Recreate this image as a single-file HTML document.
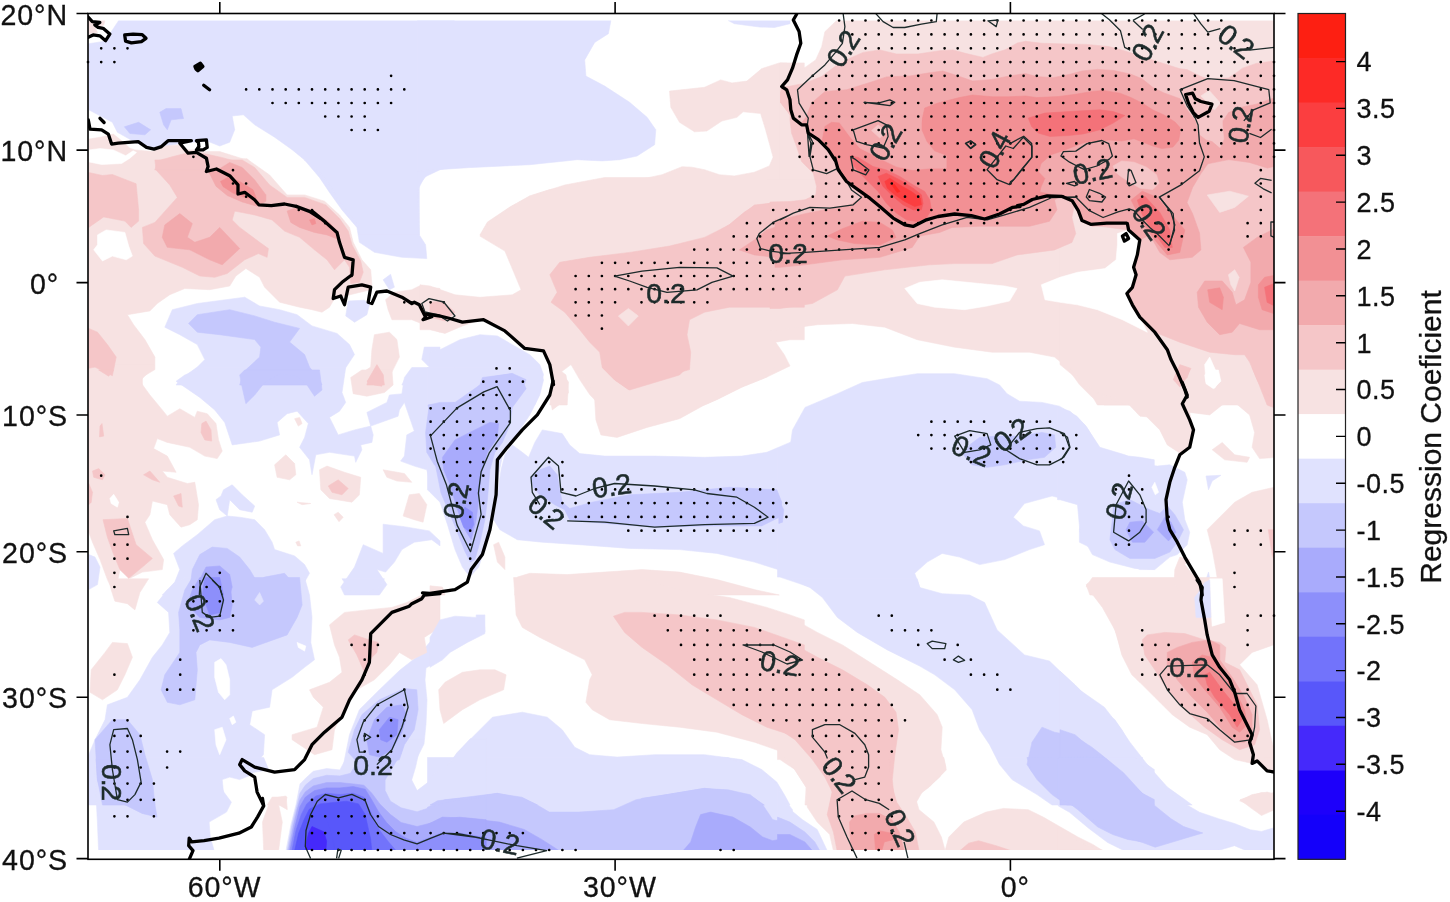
<!DOCTYPE html>
<html><head><meta charset="utf-8"><title>Regression Coeficient map</title>
<style>html,body{margin:0;padding:0;background:#fff}svg{display:block}text{font-family:"Liberation Sans",sans-serif;fill:#111;stroke:#111;stroke-width:0.3px}text.cl{fill:#1d2b2b;stroke:#1d2b2b;stroke-width:0.55px}</style>
</head><body>
<svg width="1450" height="902" viewBox="0 0 1450 902">
<rect width="1450" height="902" fill="#fff"/>
<clipPath id="cp"><rect x="88" y="20.5" width="1186" height="829.5"/></clipPath>
<g clip-path="url(#cp)">
<path d="M88.7 158.8L247.2 158.8L248.4 160.0L269.6 175.0L287.1 194.9L304.6 194.9L324.5 201.2L339.5 214.9L349.5 227.4L353.2 242.3L361.9 259.8L370.7 269.8L371.9 284.8L370.7 289.7L334.5 298.5L329.5 307.2L322.0 312.2L312.0 309.7L299.6 307.2L279.6 302.2L264.6 287.2L259.6 277.3L245.9 268.5L235.9 276.0L229.7 286.0L209.7 289.7L184.8 288.5L169.8 294.7L157.3 303.5L149.9 310.9L127.4 314.7L133.6 324.7L144.9 339.6L154.9 357.1L154.9 369.6L142.4 377.1L142.4 385.0L88.7 385.0Z" fill="#f7e2e2" stroke="#f7e2e2" stroke-width="0.6"/>
<path d="M385.6 299.7L394.4 292.2L411.8 289.7L419.3 286.0L440.0 288.5L440.0 332.2L424.3 324.7L411.8 319.7L391.9 319.7L388.1 309.7Z" fill="#f7e2e2" stroke="#f7e2e2" stroke-width="0.6"/>
<path d="M374.4 334.7L389.4 332.2L396.9 339.6L399.4 357.1L391.9 372.1L389.4 385.0L356.9 385.0L359.4 374.6L370.7 367.1L371.9 349.6Z" fill="#f7e2e2" stroke="#f7e2e2" stroke-width="0.6"/>
<path d="M304.6 160.0L440.0 160.0L440.0 167.5L426.8 175.0L419.3 185.0L419.3 234.9L425.6 244.8L426.8 258.6L401.9 257.3L374.4 252.3L359.4 242.3L356.9 227.4L342.0 209.9L329.5 192.4L319.5 177.5Z" fill="#e0e2fe" stroke="#e0e2fe" stroke-width="0.6"/>
<path d="M383.1 279.8L390.6 274.3L394.4 287.2L389.4 289.7Z" fill="#e0e2fe" stroke="#e0e2fe" stroke-width="0.6"/>
<path d="M348.2 301.0L364.4 300.2L369.4 304.7L366.9 314.7L354.5 322.2L345.7 315.9Z" fill="#e0e2fe" stroke="#e0e2fe" stroke-width="0.6"/>
<path d="M164.8 327.2L172.3 309.7L197.3 303.5L244.7 297.2L259.6 306.0L279.6 309.7L297.1 314.7L312.0 325.9L337.0 333.4L349.5 344.6L354.5 354.6L344.5 369.6L342.0 385.0L176.1 385.0L179.8 379.6L197.3 367.1L204.8 359.6L197.3 344.6L179.8 334.7Z" fill="#e0e2fe" stroke="#e0e2fe" stroke-width="0.6"/>
<path d="M440.0 347.1L424.3 347.1L421.8 359.6L429.3 367.1L421.8 372.1L404.4 379.6L401.9 385.0L440.0 385.0Z" fill="#e0e2fe" stroke="#e0e2fe" stroke-width="0.6"/>
<path d="M118.7 20.5L454.3 20.5L454.3 165.9L440.0 169.7L424.3 177.2L418.1 189.6L419.3 235.0L359.4 235.0L356.9 222.1L339.5 202.1L329.5 184.7L319.5 172.2L292.1 149.7L274.6 137.2L254.7 124.8L243.4 114.8L232.2 116.0L234.7 129.8L229.7 142.2L219.7 146.0L207.2 141.0L192.3 142.2L179.8 143.5L154.9 148.5L137.4 143.5L117.4 132.3L112.4 122.3L88.7 109.8L88.7 43.7L105.0 41.2Z" fill="#e0e2fe" stroke="#e0e2fe" stroke-width="0.6"/>
<path d="M88.7 20.5L105.0 20.5L103.7 25.0L95.0 27.5L97.5 32.5L88.7 33.7Z" fill="#f7e2e2" stroke="#f7e2e2" stroke-width="0.6"/>
<path d="M89.1 139.1L101.6 136.9L113.3 134.1L120.7 139.9L129.9 148.2L134.9 149.9L153.2 151.6L166.5 145.7L179.8 144.9L188.1 149.9L196.4 149.9L206.4 151.6L219.7 151.6L246.3 159.9L252.0 165.7L252.0 169.9L89.1 169.9Z" fill="#f7e2e2" stroke="#f7e2e2" stroke-width="0.6"/>
<path d="M417.5 20.5L610.9 20.5L608.4 33.7L594.7 42.4L584.7 59.9L585.9 76.1L604.7 86.1L629.6 102.3L647.1 117.3L655.8 129.8L654.6 144.7L637.1 156.0L619.6 159.7L602.2 160.9L577.2 159.7L529.8 164.7L467.4 167.7L430.0 170.2L417.5 170.9Z" fill="#e0e2fe" stroke="#e0e2fe" stroke-width="0.6"/>
<path d="M728.2 20.5L790.0 20.5L790.0 23.7L774.3 27.5L759.3 27.0L734.4 23.7Z" fill="#e0e2fe" stroke="#e0e2fe" stroke-width="0.6"/>
<path d="M669.5 91.1L704.5 87.3L720.7 79.9L731.9 82.9L746.9 81.1L761.8 68.6L779.3 62.9L804.3 62.9L804.3 235.0L479.9 235.0L487.4 222.1L509.8 207.1L529.8 195.9L549.8 189.6L579.7 184.7L629.6 181.7L662.0 174.7L682.0 166.7L692.0 167.2L704.5 169.7L719.4 174.7L734.4 175.9L754.4 172.2L769.3 165.9L773.1 157.2L765.6 129.8L760.6 113.5L743.1 111.8L736.9 117.3L721.9 121.0L706.9 131.0L694.5 131.8L679.5 122.3L670.8 107.3Z" fill="#f7e2e2" stroke="#f7e2e2" stroke-width="0.6"/>
<path d="M604.7 177.5L564.7 185.0L529.8 196.2L509.8 207.4L487.4 224.9L479.9 236.1L504.9 251.1L521.1 289.8L512.3 294.8L479.9 297.3L455.0 294.8L430.0 286.0L420.0 284.8L420.0 329.7L430.0 329.7L445.0 333.4L462.4 326.0L483.6 318.5L504.9 329.7L524.8 347.2L543.5 350.9L549.8 364.6L553.5 384.6L549.8 405.0L567.2 405.0L568.5 382.1L561.0 372.1L571.0 364.6L579.7 379.6L589.7 394.6L599.7 405.0L704.5 405.0L716.9 399.6L741.9 387.1L766.8 377.1L790.0 365.9L784.3 354.7L775.6 342.2L790.0 339.7L804.3 339.7L804.3 177.5Z" fill="#f7e2e2" stroke="#f7e2e2" stroke-width="0.6"/>
<path d="M430.0 352.2L440.0 349.7L459.9 339.7L479.9 334.7L497.4 335.9L512.3 344.7L529.8 354.7L539.8 364.6L543.5 374.6L539.8 392.1L534.8 405.0L430.0 405.0Z" fill="#e0e2fe" stroke="#e0e2fe" stroke-width="0.6"/>
<path d="M836.6 20.5L1304.0 20.5L1304.0 235.0L780.0 235.0L780.0 62.9L786.7 63.1L793.2 70.6L805.0 67.4L815.7 59.9L821.7 46.7L824.9 31.7Z" fill="#f7e2e2" stroke="#f7e2e2" stroke-width="0.6"/>
<path d="M767.5 180.0L1154.3 180.0L1154.3 405.0L1104.4 405.0L1091.9 397.1L1079.4 384.6L1066.9 367.1L1054.5 357.1L1029.5 352.2L992.1 352.2L954.7 347.2L917.2 339.7L884.8 327.2L852.4 323.5L817.4 324.7L780.0 329.7L767.5 330.9Z" fill="#f7e2e2" stroke="#f7e2e2" stroke-width="0.6"/>
<path d="M1060.0 180.0L1277.1 180.0L1277.1 405.0L1097.4 405.0L1089.9 392.1L1075.0 377.1L1060.0 364.6Z" fill="#f7e2e2" stroke="#f7e2e2" stroke-width="0.6"/>
<path d="M88.7 365.0L154.9 365.0L139.9 381.2L149.9 395.0L162.3 409.9L167.3 416.2L179.8 408.7L194.8 417.4L197.3 411.2L207.2 413.7L216.0 423.6L218.5 439.9L222.2 451.1L217.2 458.6L204.8 456.1L189.8 447.3L167.3 442.4L157.3 438.6L153.6 448.6L167.3 456.1L176.1 472.3L162.3 471.0L167.3 477.3L187.3 483.5L194.8 482.3L198.5 504.7L197.3 519.7L189.8 524.7L181.0 527.2L169.8 514.7L167.3 504.7L152.4 501.0L149.9 514.7L144.9 522.2L152.4 539.7L163.6 559.6L162.3 569.6L142.4 572.1L129.9 578.3L119.9 569.6L114.9 595.0L107.4 579.6L100.0 559.6L92.5 542.2L88.7 532.2Z" fill="#f7e2e2" stroke="#f7e2e2" stroke-width="0.6"/>
<path d="M176.1 381.2L184.8 375.0L204.8 367.5L345.7 367.5L342.0 392.5L345.7 402.4L339.5 411.2L329.5 417.4L338.2 434.9L354.5 429.9L370.7 426.1L373.2 434.9L371.9 442.4L360.7 444.9L361.9 449.8L355.7 462.3L354.5 456.1L329.5 452.3L315.8 454.8L312.0 474.8L309.5 459.8L299.6 447.3L304.6 437.4L308.3 423.6L297.1 411.2L287.1 413.7L277.1 422.4L279.6 434.9L259.6 441.1L232.2 444.9L224.7 422.4L214.7 409.9L199.8 397.4Z" fill="#e0e2fe" stroke="#e0e2fe" stroke-width="0.6"/>
<path d="M411.8 367.5L454.3 367.5L454.3 509.7L440.0 499.7L431.8 489.8L426.8 469.8L414.3 466.1L400.6 461.1L404.4 456.1L406.8 434.9L414.3 431.1L404.4 402.4L401.9 393.7L404.4 377.5Z" fill="#e0e2fe" stroke="#e0e2fe" stroke-width="0.6"/>
<path d="M366.9 412.4L386.9 402.4L389.4 395.0L403.1 393.7L404.4 402.4L399.4 409.9L398.1 416.2L370.7 426.1Z" fill="#e0e2fe" stroke="#e0e2fe" stroke-width="0.6"/>
<path d="M223.5 489.8L232.2 484.8L242.2 494.8L254.7 506.0L252.2 512.2L239.7 509.7L229.7 499.7L227.2 516.0L219.7 509.7L216.0 499.7L221.0 496.0Z" fill="#e0e2fe" stroke="#e0e2fe" stroke-width="0.6"/>
<path d="M162.3 595.0L174.8 582.1L179.8 569.6L173.6 553.4L182.3 545.9L197.3 534.7L214.7 519.7L227.2 516.0L239.7 517.2L254.7 519.7L264.6 529.7L272.1 542.2L274.6 549.6L294.6 555.9L304.6 564.6L309.5 573.3L304.6 582.1L299.6 595.0Z" fill="#e0e2fe" stroke="#e0e2fe" stroke-width="0.6"/>
<path d="M340.7 587.1L354.5 567.1L363.2 544.7L383.1 553.4L383.1 524.2L404.4 526.7L429.3 530.9L440.0 540.9L440.0 545.9L431.8 539.7L414.3 542.2L401.9 549.6L394.4 562.1L385.6 572.1L376.9 569.6L386.9 584.6L379.4 595.0L344.5 595.0Z" fill="#e0e2fe" stroke="#e0e2fe" stroke-width="0.6"/>
<path d="M88.7 554.6L95.0 557.1L100.0 567.1L97.5 584.6L88.7 589.6Z" fill="#e0e2fe" stroke="#e0e2fe" stroke-width="0.6"/>
<path d="M427.5 367.5L539.8 367.5L543.5 380.0L539.8 395.0L529.8 414.9L519.8 429.9L512.3 442.4L502.4 456.1L498.6 474.8L496.1 499.7L489.9 529.7L483.6 552.1L478.7 567.1L469.9 577.1L462.4 567.1L455.0 549.6L447.5 524.7L440.0 502.2L430.0 492.3L427.5 489.8Z" fill="#e0e2fe" stroke="#e0e2fe" stroke-width="0.6"/>
<path d="M528.6 457.3L534.8 442.4L542.3 429.9L562.2 433.6L569.7 444.9L579.7 453.6L604.7 456.1L654.6 456.1L704.5 457.3L741.9 456.1L766.8 452.3L790.0 442.4L804.3 437.4L804.3 579.6L790.0 573.3L754.4 562.1L716.9 553.4L679.5 549.6L629.6 548.4L579.7 544.7L542.3 542.2L517.3 539.7L499.9 529.7L493.6 519.7L497.4 494.8L501.1 469.8L504.9 454.8L512.3 444.9L522.3 452.3Z" fill="#e0e2fe" stroke="#e0e2fe" stroke-width="0.6"/>
<path d="M559.7 370.0L566.0 375.0L568.5 392.5L562.2 402.4L552.3 409.9L549.8 397.4L553.5 380.0Z" fill="#f7e2e2" stroke="#f7e2e2" stroke-width="0.6"/>
<path d="M577.2 367.5L774.3 367.5L766.8 377.0L741.9 387.0L716.9 399.4L704.5 404.9L679.5 418.7L647.1 427.4L617.1 437.4L600.9 434.9L595.9 419.9L594.7 399.9L589.7 385.0Z" fill="#f7e2e2" stroke="#f7e2e2" stroke-width="0.6"/>
<path d="M493.6 544.7L498.6 542.2L504.9 557.1L504.9 569.6L497.4 562.1Z" fill="#f7e2e2" stroke="#f7e2e2" stroke-width="0.6"/>
<path d="M514.8 595.0L517.3 577.1L529.8 573.3L567.2 574.6L604.7 572.1L642.1 569.6L679.5 572.1L716.9 579.6L754.4 589.6L779.3 595.0Z" fill="#f7e2e2" stroke="#f7e2e2" stroke-width="0.6"/>
<path d="M430.0 585.8L442.5 587.1L445.0 595.0L430.0 595.0Z" fill="#f7e2e2" stroke="#f7e2e2" stroke-width="0.6"/>
<path d="M777.5 449.8L790.0 447.3L792.5 429.9L805.0 407.4L837.4 393.7L862.3 382.5L892.3 377.5L917.2 373.7L954.7 373.7L987.1 378.7L999.6 385.0L1007.0 393.7L1019.5 401.2L1042.0 402.4L1059.4 406.2L1076.9 416.2L1086.9 427.4L1101.9 452.3L1116.8 454.8L1140.0 457.3L1154.3 459.8L1154.3 569.6L1140.0 569.6L1116.8 559.6L1094.4 549.6L1079.4 542.2L1079.4 529.7L1081.9 517.2L1078.2 502.2L1052.0 496.0L1024.5 503.5L1013.3 517.2L1023.3 525.9L1039.5 530.9L1044.5 544.7L1029.5 549.6L1004.6 559.6L979.6 564.6L959.6 557.1L942.2 553.4L927.2 562.1L914.7 573.3L919.7 587.1L924.7 595.0L822.4 595.0L809.9 587.1L780.0 577.1L777.5 577.1Z" fill="#e0e2fe" stroke="#e0e2fe" stroke-width="0.6"/>
<path d="M1070.7 368.8L1079.4 380.0L1094.4 392.5L1111.8 399.9L1129.3 404.9L1140.0 416.2L1154.3 417.4L1154.3 368.8Z" fill="#f7e2e2" stroke="#f7e2e2" stroke-width="0.6"/>
<path d="M1086.9 584.6L1094.4 578.3L1111.8 579.6L1129.3 584.6L1140.0 587.1L1140.0 595.0L1091.9 595.0Z" fill="#f7e2e2" stroke="#f7e2e2" stroke-width="0.6"/>
<path d="M1071.2 367.5L1082.5 382.5L1097.4 392.5L1122.4 399.9L1142.3 412.4L1159.8 429.9L1167.3 444.9L1182.3 454.8L1189.7 447.3L1193.5 429.9L1189.7 412.4L1209.7 414.9L1222.2 404.9L1234.7 402.4L1249.6 414.9L1254.6 432.4L1252.1 447.3L1259.6 458.6L1277.1 457.3L1277.1 367.5Z" fill="#f7e2e2" stroke="#f7e2e2" stroke-width="0.6"/>
<path d="M1212.2 449.8L1222.2 442.4L1234.7 454.8L1249.6 457.3L1247.1 462.3L1224.7 459.8Z" fill="#f7e2e2" stroke="#f7e2e2" stroke-width="0.6"/>
<path d="M1057.5 407.4L1070.0 411.2L1085.0 424.9L1099.9 447.3L1124.9 454.8L1147.3 464.8L1157.3 466.1L1169.8 464.8L1184.8 472.3L1187.2 479.8L1182.3 502.2L1184.8 519.7L1189.7 532.2L1187.2 544.7L1177.3 554.6L1169.8 557.1L1154.8 569.6L1134.9 568.4L1109.9 562.1L1092.4 554.6L1080.0 532.2L1077.5 504.7L1060.0 499.7L1057.5 499.7Z" fill="#e0e2fe" stroke="#e0e2fe" stroke-width="0.6"/>
<path d="M1206.0 476.0L1220.9 475.3L1212.2 481.0L1208.5 489.8Z" fill="#e0e2fe" stroke="#e0e2fe" stroke-width="0.6"/>
<path d="M1203.5 595.0L1206.0 579.6L1208.5 572.1L1210.9 584.6L1210.9 595.0Z" fill="#e0e2fe" stroke="#e0e2fe" stroke-width="0.6"/>
<path d="M1207.2 529.7L1219.7 517.2L1234.7 502.2L1252.1 492.3L1274.1 487.3L1277.1 487.3L1277.1 595.0L1219.7 595.0L1215.9 569.6L1212.2 549.6Z" fill="#f7e2e2" stroke="#f7e2e2" stroke-width="0.6"/>
<path d="M1086.2 584.6L1097.4 578.3L1122.4 579.6L1139.8 587.1L1147.3 595.0L1089.9 595.0Z" fill="#f7e2e2" stroke="#f7e2e2" stroke-width="0.6"/>
<path d="M1173.5 595.0L1174.8 569.6L1179.8 557.1L1189.7 559.6L1184.8 564.6L1194.7 577.1L1199.7 587.1L1199.7 595.0Z" fill="#f7e2e2" stroke="#f7e2e2" stroke-width="0.6"/>
<path d="M167.3 590.0L184.8 577.5L304.6 577.5L309.5 595.0L312.0 617.4L310.8 642.4L314.5 659.8L304.6 667.3L292.1 677.3L272.1 689.8L269.6 707.2L252.2 711.0L249.7 724.7L264.6 734.7L263.4 754.7L254.7 764.6L252.2 774.6L239.7 779.6L229.7 777.1L222.2 779.6L224.7 805.0L88.7 805.0L88.7 754.7L95.0 739.7L105.0 719.7L107.4 704.8L127.4 697.3L139.9 679.8L152.4 657.3L162.3 644.9L169.8 632.4L168.6 612.4L157.3 602.5Z" fill="#e0e2fe" stroke="#e0e2fe" stroke-width="0.6"/>
<path d="M344.5 759.6L349.5 734.7L359.4 709.7L379.4 689.8L400.0 670.0L418.0 656.0L430.0 642.0L440.0 626.0L446.0 620.0L484.0 620.0L485.0 632.0L466.0 642.0L448.0 652.0L440.0 660.0L426.0 668.0L425.0 680.0L427.0 700.0L426.0 724.0L424.0 744.0L416.0 760.0L410.0 784.0L416.8 792.0L440.0 797.0L440.0 805.0L404.3 805.0L396.9 797.0L379.4 777.0L354.5 774.6L342.0 772.0Z" fill="#e0e2fe" stroke="#e0e2fe" stroke-width="0.6"/>
<path d="M342.0 578.8L384.4 578.8L379.4 587.5L361.9 593.7L349.5 590.0Z" fill="#e0e2fe" stroke="#e0e2fe" stroke-width="0.6"/>
<path d="M108.7 578.8L148.6 578.8L139.9 592.5L134.9 609.9L127.4 603.7L114.9 601.2L111.2 590.0Z" fill="#f7e2e2" stroke="#f7e2e2" stroke-width="0.6"/>
<path d="M91.2 669.8L105.0 652.4L112.4 642.4L127.4 643.6L132.4 657.3L124.9 674.8L117.4 689.8L102.5 699.8L90.0 692.3Z" fill="#f7e2e2" stroke="#f7e2e2" stroke-width="0.6"/>
<path d="M329.5 624.9L344.5 612.4L366.9 609.9L391.9 607.4L406.8 602.5L421.8 595.0L440.0 595.0L440.0 627.4L424.3 637.4L426.8 652.4L411.8 659.8L399.4 652.4L389.4 664.8L374.4 679.8L356.9 689.8L344.5 707.2L334.5 729.7L332.0 749.7L314.5 754.7L292.1 739.7L292.1 734.7L317.0 727.2L323.3 707.2L313.3 697.3L309.5 689.8L329.5 682.3L342.0 672.3L339.5 657.3L334.5 644.9Z" fill="#f7e2e2" stroke="#f7e2e2" stroke-width="0.6"/>
<path d="M267.1 805.0L272.1 797.1L287.1 797.1L284.6 805.0Z" fill="#f7e2e2" stroke="#f7e2e2" stroke-width="0.6"/>
<path d="M513.6 577.5L639.6 577.5L679.5 590.0L729.4 597.5L766.8 607.4L790.0 614.9L804.3 619.9L804.3 762.1L790.0 754.7L754.4 742.2L716.9 732.2L679.5 727.2L642.1 723.5L609.6 719.7L592.2 709.7L585.9 702.3L589.7 679.8L592.2 674.8L584.7 659.8L559.7 647.4L539.8 637.4L522.3 627.4L516.1 614.9L514.8 595.0Z" fill="#f7e2e2" stroke="#f7e2e2" stroke-width="0.6"/>
<path d="M438.7 689.8L445.0 682.3L462.4 672.3L479.9 669.8L494.9 669.8L506.1 674.8L503.6 689.8L479.9 699.8L462.4 709.7L443.7 723.5L440.0 709.7Z" fill="#f7e2e2" stroke="#f7e2e2" stroke-width="0.6"/>
<path d="M430.0 637.4L440.0 619.9L455.0 616.2L476.2 617.4L476.2 614.9L484.9 614.9L484.9 633.6L467.4 642.4L450.0 652.4L442.5 659.8L430.0 667.3Z" fill="#e0e2fe" stroke="#e0e2fe" stroke-width="0.6"/>
<path d="M430.0 772.1L445.0 769.6L457.4 752.2L474.9 734.7L492.4 717.2L522.3 712.2L547.3 717.2L562.2 729.7L574.7 747.2L589.7 754.7L617.1 757.1L654.6 754.7L704.5 754.7L741.9 759.6L761.8 769.6L776.8 782.1L784.3 794.6L790.0 805.0L430.0 805.0Z" fill="#e0e2fe" stroke="#e0e2fe" stroke-width="0.6"/>
<path d="M790.0 578.8L917.2 578.8L919.7 587.5L942.2 593.7L969.6 595.0L984.6 602.5L997.1 629.9L1024.5 654.9L1049.5 661.1L1079.4 689.8L1104.4 707.2L1121.8 729.7L1134.3 752.2L1140.0 759.6L1154.3 769.6L1154.3 805.0L1052.0 805.0L1037.0 794.6L1012.0 779.6L999.6 764.6L989.6 744.7L979.6 729.7L972.1 709.7L954.7 689.8L934.7 674.8L919.7 666.1L887.3 649.9L857.3 632.4L837.4 617.4L822.4 597.5L809.9 587.5Z" fill="#e0e2fe" stroke="#e0e2fe" stroke-width="0.6"/>
<path d="M777.5 612.4L795.0 619.9L817.4 632.4L842.4 644.9L869.8 662.3L897.3 679.8L919.7 694.8L937.2 714.7L942.2 727.2L940.9 749.7L945.9 767.1L939.7 777.1L922.2 792.1L914.7 805.0L805.0 805.0L806.2 787.1L795.0 769.6L780.0 759.6L777.5 759.6Z" fill="#f7e2e2" stroke="#f7e2e2" stroke-width="0.6"/>
<path d="M1086.9 585.0L1096.9 578.8L1140.0 578.8L1140.0 682.3L1131.8 674.8L1121.8 654.9L1116.8 634.9L1109.3 614.9L1094.4 595.0Z" fill="#f7e2e2" stroke="#f7e2e2" stroke-width="0.6"/>
<path d="M1086.2 586.2L1092.4 577.5L1277.1 577.5L1277.1 643.6L1252.1 652.4L1239.6 664.8L1257.1 684.8L1267.1 719.7L1272.1 742.2L1277.1 759.6L1277.1 772.1L1267.1 770.9L1257.1 760.9L1252.1 763.4L1234.7 759.6L1219.7 749.7L1207.2 734.7L1189.7 727.2L1172.3 714.7L1154.8 697.3L1137.3 679.8L1122.4 654.9L1114.9 629.9L1102.4 607.4Z" fill="#f7e2e2" stroke="#f7e2e2" stroke-width="0.6"/>
<path d="M1060.0 671.1L1075.0 684.8L1092.4 702.3L1114.9 719.7L1129.9 742.2L1147.3 764.6L1167.3 787.1L1184.8 799.6L1192.2 805.0L1060.0 805.0Z" fill="#e0e2fe" stroke="#e0e2fe" stroke-width="0.6"/>
<path d="M1239.6 800.8L1252.1 794.6L1267.1 792.1L1277.1 794.6L1277.1 805.0L1249.6 805.0Z" fill="#f7e2e2" stroke="#f7e2e2" stroke-width="0.6"/>
<path d="M1173.5 582.5L1177.3 577.5L1194.7 577.5L1189.7 587.5L1182.3 596.2Z" fill="#f7e2e2" stroke="#f7e2e2" stroke-width="0.6"/>
<path d="M94.9 757.5L238.9 757.5L238.9 767.4L226.5 774.9L219.0 782.3L224.0 792.3L231.4 802.2L226.5 812.1L209.1 822.1L210.3 837.0L214.1 850.6L98.6 850.6L97.4 822.1L96.1 797.2Z" fill="#e0e2fe" stroke="#e0e2fe" stroke-width="0.6"/>
<path d="M238.9 757.5L263.7 757.5L268.7 769.9L253.8 772.4L243.9 767.4Z" fill="#e0e2fe" stroke="#e0e2fe" stroke-width="0.6"/>
<path d="M263.7 850.6L262.5 822.1L268.7 804.7L278.6 797.2L286.1 796.0L287.3 809.7L278.6 804.7L282.3 822.1L278.6 850.6Z" fill="#f7e2e2" stroke="#f7e2e2" stroke-width="0.6"/>
<path d="M427.5 757.5L727.9 757.5L757.7 769.9L775.1 782.3L785.0 799.7L792.5 809.7L792.5 850.6L427.5 850.6Z" fill="#e0e2fe" stroke="#e0e2fe" stroke-width="0.6"/>
<path d="M777.5 787.3L787.4 807.2L802.3 819.6L817.2 829.5L827.2 850.6L777.5 850.6Z" fill="#e0e2fe" stroke="#e0e2fe" stroke-width="0.6"/>
<path d="M785.0 757.5L943.9 757.5L946.3 769.9L929.0 787.3L915.3 797.2L919.0 809.7L933.9 822.1L941.4 837.0L945.1 850.6L833.4 850.6L829.7 834.5L817.2 822.1L807.3 807.2L806.1 787.3L794.9 769.9Z" fill="#f7e2e2" stroke="#f7e2e2" stroke-width="0.6"/>
<path d="M945.1 850.6L948.8 837.0L963.7 822.1L986.1 812.1L1003.4 808.4L1028.3 809.7L1043.2 817.1L1060.5 827.0L1077.9 837.0L1092.8 844.4L1102.7 850.6Z" fill="#f7e2e2" stroke="#f7e2e2" stroke-width="0.6"/>
<path d="M998.5 757.5L1142.5 757.5L1142.5 850.6L1127.6 850.6L1107.7 839.4L1085.4 822.1L1065.5 807.2L1040.7 794.8L1020.8 782.3L1005.9 769.9Z" fill="#e0e2fe" stroke="#e0e2fe" stroke-width="0.6"/>
<path d="M1058.4 758.4L1136.1 758.4L1148.8 772.7L1161.5 787.0L1180.6 801.2L1199.6 812.3L1218.6 818.7L1234.5 823.5L1250.4 829.8L1261.5 831.4L1272.6 828.2L1275.7 828.2L1275.7 850.4L1245.6 850.4L1234.5 845.7L1218.6 850.4L1123.5 850.4L1107.6 842.5L1088.6 828.2L1069.5 812.3L1058.4 806.0Z" fill="#e0e2fe" stroke="#e0e2fe" stroke-width="0.6"/>
<path d="M1058.4 828.2L1069.5 836.1L1083.8 844.1L1102.8 850.4L1058.4 850.4Z" fill="#f7e2e2" stroke="#f7e2e2" stroke-width="0.6"/>
<path d="M1240.0 799.7L1247.2 797.3L1261.5 792.5L1269.4 794.1L1275.7 791.7L1275.7 809.2L1261.5 815.5L1250.4 807.6Z" fill="#f7e2e2" stroke="#f7e2e2" stroke-width="0.6"/>
<path d="M1264.6 758.4L1275.7 758.4L1275.7 767.9L1269.4 766.3Z" fill="#f7e2e2" stroke="#f7e2e2" stroke-width="0.6"/>
<path d="M286.0 850.4L291.0 824.5L296.0 804.7L300.0 783.9L306.7 777.2L313.3 771.3L326.6 768.6L339.9 769.9L345.2 760.0L350.6 746.7L353.2 738.7L423.7 738.7L419.7 748.0L415.7 766.6L411.7 779.9L417.1 790.6L427.7 782.6L433.0 774.6L446.3 766.6L459.6 750.6L470.3 738.7L486.2 738.7L486.2 850.4Z" fill="#e0e2fe" stroke="#e0e2fe" stroke-width="0.6"/>
<path d="M97.5 234.9L106.2 229.9L124.9 232.4L128.7 246.1L132.4 256.1L126.2 259.8L112.4 256.1L102.5 261.0L93.7 249.8L97.5 244.8Z" fill="#ffffff" stroke="#ffffff" stroke-width="0.6"/>
<path d="M89.1 149.9L100.0 148.6L113.3 149.9L125.7 155.7L133.2 150.7L136.5 152.4L129.9 158.2L121.6 163.5L101.6 164.5L89.1 161.9Z" fill="#ffffff" stroke="#ffffff" stroke-width="0.6"/>
<path d="M904.8 288.5L919.7 282.3L942.2 279.8L979.6 283.5L1004.6 286.0L1017.0 288.5L1009.5 301.0L987.1 306.0L964.6 309.7L934.7 307.2L917.2 303.5Z" fill="#ffffff" stroke="#ffffff" stroke-width="0.6"/>
<path d="M1117.4 233.6L1128.6 229.9L1139.8 239.9L1137.3 254.9L1133.6 267.3L1136.1 274.8L1132.4 287.3L1126.9 293.5L1132.4 304.8L1139.8 317.2L1147.3 332.2L1142.3 329.7L1122.4 319.7L1097.4 309.7L1077.5 304.8L1060.0 302.3L1045.0 299.8L1041.3 284.8L1060.0 277.3L1077.5 272.3L1104.9 268.6L1116.1 259.8L1117.4 244.9Z" fill="#ffffff" stroke="#ffffff" stroke-width="0.6"/>
<path d="M1204.7 364.6L1209.7 357.1L1219.7 379.6L1214.7 388.3L1206.0 382.1Z" fill="#ffffff" stroke="#ffffff" stroke-width="0.6"/>
<path d="M109.9 498.5L113.7 494.3L118.7 502.2L117.4 507.2L111.2 503.5Z" fill="#ffffff" stroke="#ffffff" stroke-width="0.6"/>
<path d="M1204.7 375.0L1209.7 370.0L1218.4 370.0L1220.9 381.2L1213.4 388.7L1206.0 383.7Z" fill="#ffffff" stroke="#ffffff" stroke-width="0.6"/>
<path d="M1151.8 487.3L1154.8 482.3L1158.6 492.3L1155.3 494.8Z" fill="#ffffff" stroke="#ffffff" stroke-width="0.6"/>
<path d="M214.7 662.3L221.0 658.6L226.0 664.8L229.7 679.8L229.7 694.8L224.7 699.8L218.5 692.3L214.7 677.3Z" fill="#ffffff" stroke="#ffffff" stroke-width="0.6"/>
<path d="M297.1 642.4L305.8 646.1L304.6 651.1L298.3 647.4Z" fill="#ffffff" stroke="#ffffff" stroke-width="0.6"/>
<path d="M214.7 729.7L222.2 727.2L226.0 739.7L219.7 754.7L216.0 744.7Z" fill="#ffffff" stroke="#ffffff" stroke-width="0.6"/>
<path d="M229.7 718.5L233.4 716.0L235.9 722.2L232.2 724.7Z" fill="#ffffff" stroke="#ffffff" stroke-width="0.6"/>
<path d="M1209.7 578.8L1222.2 578.8L1224.7 622.4L1212.2 626.2L1210.9 605.0Z" fill="#ffffff" stroke="#ffffff" stroke-width="0.6"/>
<path d="M350.7 377.5L361.9 370.0L391.9 370.0L393.1 385.0L384.4 392.5L366.9 396.2L353.2 393.7Z" fill="#f7e2e2" stroke="#f7e2e2" stroke-width="0.6"/>
<path d="M274.6 464.8L285.8 454.8L294.6 463.6L295.8 474.8L289.6 479.8L277.1 477.3Z" fill="#f7e2e2" stroke="#f7e2e2" stroke-width="0.6"/>
<path d="M319.5 469.8L327.0 466.1L344.5 472.3L360.7 477.3L359.4 494.8L352.0 502.2L329.5 498.5L320.8 489.8Z" fill="#f7e2e2" stroke="#f7e2e2" stroke-width="0.6"/>
<path d="M383.1 469.8L404.4 473.5L411.8 482.3L396.9 481.0L386.9 477.3Z" fill="#f7e2e2" stroke="#f7e2e2" stroke-width="0.6"/>
<path d="M409.3 494.8L419.3 493.5L426.8 504.7L423.1 522.2L414.3 519.7L403.1 516.0Z" fill="#f7e2e2" stroke="#f7e2e2" stroke-width="0.6"/>
<path d="M334.0 514.7L338.2 512.2L343.2 517.2L339.0 521.7Z" fill="#f7e2e2" stroke="#f7e2e2" stroke-width="0.6"/>
<path d="M294.6 418.7L299.6 417.4L302.1 423.6L298.3 426.1Z" fill="#f7e2e2" stroke="#f7e2e2" stroke-width="0.6"/>
<path d="M297.1 502.2L310.8 503.5L302.1 504.7Z" fill="#f7e2e2" stroke="#f7e2e2" stroke-width="0.6"/>
<path d="M295.8 542.2L299.1 540.9L300.8 545.9L297.6 545.9Z" fill="#f7e2e2" stroke="#f7e2e2" stroke-width="0.6"/>
<path d="M1194.7 597.5L1198.5 592.5L1204.7 582.5L1209.7 580.0L1210.9 617.4L1196.0 617.4Z" fill="#e0e2fe" stroke="#e0e2fe" stroke-width="0.6"/>
<path d="M88.7 172.5L102.5 175.5L112.4 174.5L136.1 183.7L138.6 209.9L138.6 221.1L131.1 227.4L124.9 221.1L103.7 216.9L88.7 227.4Z" fill="#f5c6c8" stroke="#f5c6c8" stroke-width="0.6"/>
<path d="M242.2 160.0L254.7 167.5L269.6 185.0L287.1 197.4L304.6 197.4L325.8 204.9L339.5 218.6L348.2 231.1L352.0 244.8L360.7 261.0L363.2 272.3L359.4 282.3L350.7 283.5L349.5 267.3L344.5 259.8L334.5 269.8L327.0 259.8L314.5 249.8L299.6 237.3L284.6 231.1L272.1 219.9L254.7 214.9L234.7 211.1L232.2 219.9L239.7 227.4L259.6 242.3L268.4 248.6L267.1 257.3L258.4 253.6L244.7 259.8L227.2 273.5L214.7 277.3L199.8 276.0L182.3 267.3L154.9 256.1L143.6 243.6L142.4 227.4L154.9 222.4L177.3 197.4L169.8 185.0L156.1 170.0L154.9 160.0Z" fill="#f5c6c8" stroke="#f5c6c8" stroke-width="0.6"/>
<path d="M188.5 323.4L197.3 314.7L229.7 309.7L254.7 315.9L274.6 322.2L299.6 328.4L289.6 342.1L304.6 354.6L309.5 367.1L319.5 379.6L322.0 385.0L239.7 385.0L243.4 372.1L259.6 357.1L260.9 347.1L254.7 339.6L219.7 334.7L197.3 332.2Z" fill="#c5c8fd" stroke="#c5c8fd" stroke-width="0.6"/>
<path d="M88.7 328.4L97.5 332.2L107.4 344.6L116.2 357.1L112.4 375.8L95.0 367.1L88.7 368.3Z" fill="#f5c6c8" stroke="#f5c6c8" stroke-width="0.6"/>
<path d="M368.2 379.6L376.9 364.6L383.1 374.6L384.4 385.0L366.9 385.0Z" fill="#f5c6c8" stroke="#f5c6c8" stroke-width="0.6"/>
<path d="M159.8 112.3L166.1 108.6L181.0 108.6L183.5 118.5L171.1 119.8L167.3 129.8L163.6 124.8Z" fill="#c5c8fd" stroke="#c5c8fd" stroke-width="0.6"/>
<path d="M124.4 126.8L138.6 122.3L150.6 129.8L144.9 134.8L129.9 133.5Z" fill="#c5c8fd" stroke="#c5c8fd" stroke-width="0.6"/>
<path d="M154.8 169.9L158.2 160.7L173.1 156.5L186.4 153.2L194.8 152.9L206.4 154.1L221.4 157.4L238.0 161.9L244.7 169.9Z" fill="#f5c6c8" stroke="#f5c6c8" stroke-width="0.6"/>
<path d="M711.9 235.0L729.4 224.6L744.4 212.1L754.4 205.9L774.3 202.6L790.0 202.6L790.0 235.0Z" fill="#f5c6c8" stroke="#f5c6c8" stroke-width="0.6"/>
<path d="M780.5 92.3L790.0 92.3L790.0 114.8L780.5 102.3Z" fill="#f5c6c8" stroke="#f5c6c8" stroke-width="0.6"/>
<path d="M549.8 274.8L559.7 262.3L589.7 257.3L629.6 252.4L669.5 246.1L704.5 237.4L729.4 224.9L754.4 205.0L779.3 202.5L804.3 202.5L804.3 307.2L729.4 307.2L704.5 312.2L689.5 319.7L687.0 334.7L690.7 352.2L689.5 369.6L654.6 379.6L628.4 389.6L614.6 379.6L602.2 367.1L599.7 352.2L589.7 342.2L579.7 329.7L564.7 312.2L551.0 302.3L557.2 292.3Z" fill="#f5c6c8" stroke="#f5c6c8" stroke-width="0.6"/>
<path d="M430.0 302.3L442.5 301.0L455.0 312.2L445.0 321.0L430.0 317.2Z" fill="#f5c6c8" stroke="#f5c6c8" stroke-width="0.6"/>
<path d="M477.4 387.1L489.9 377.1L512.3 373.4L526.1 379.6L522.3 389.6L514.8 397.1L504.9 405.0L467.4 405.0Z" fill="#c5c8fd" stroke="#c5c8fd" stroke-width="0.6"/>
<path d="M781.7 86.5L788.3 86.5L805.0 83.2L821.6 76.5L834.9 66.6L849.9 58.2L863.2 52.4L879.8 49.9L896.4 54.0L918.0 54.0L939.7 50.7L953.0 49.9L966.3 53.6L982.9 57.4L992.5 53.7L1005.7 49.6L1017.3 43.0L1025.6 41.3L1042.0 43.3L1064.0 43.9L1086.5 44.4L1108.7 46.6L1125.0 51.0L1142.0 56.6L1158.6 62.0L1169.7 65.5L1180.0 68.8L1187.0 69.6L1200.9 76.5L1209.2 79.3L1228.6 77.9L1236.9 72.4L1242.5 68.2L1256.3 63.4L1271.6 61.3L1280.0 61.0L1280.0 342.0L1280.0 410.0L1267.1 405.0L1257.1 379.6L1249.6 362.1L1244.6 354.7L1234.7 354.7L1209.7 352.2L1179.8 342.2L1154.8 332.2L1139.8 317.2L1132.4 304.8L1126.9 293.5L1132.4 287.3L1136.1 274.8L1133.6 267.3L1137.3 254.9L1139.8 239.9L1128.6 229.9L1099.4 226.2L1086.9 223.7L1079.4 214.9L1074.4 205.0L1071.9 217.4L1075.7 233.6L1071.9 242.4L1054.5 249.9L1017.0 254.9L992.1 263.6L954.7 263.6L929.7 264.8L884.8 269.8L844.9 276.1L837.4 289.8L812.4 303.5L780.0 308.5L770.0 308.5L770.0 202.0L780.0 201.8L790.0 201.5L805.0 199.8L815.8 194.8L816.6 186.5L813.3 173.2L801.6 161.6L796.6 146.6L791.6 133.3L790.0 120.0L790.0 114.8L780.5 102.3L780.5 92.3Z" fill="#f5c6c8" stroke="#f5c6c8" stroke-width="0.6"/>
<path d="M1173.5 379.6L1179.8 364.6L1191.0 368.4L1184.8 379.6L1179.8 387.1Z" fill="#f5c6c8" stroke="#f5c6c8" stroke-width="0.6"/>
<path d="M98.7 370.0L113.7 370.0L108.7 376.2Z" fill="#f5c6c8" stroke="#f5c6c8" stroke-width="0.6"/>
<path d="M100.0 426.1L102.0 423.6L103.7 436.1L99.5 436.9Z" fill="#f5c6c8" stroke="#f5c6c8" stroke-width="0.6"/>
<path d="M201.8 423.6L206.0 421.1L211.0 429.9L211.7 441.1L204.8 439.9L201.0 432.4Z" fill="#f5c6c8" stroke="#f5c6c8" stroke-width="0.6"/>
<path d="M92.5 471.0L98.7 468.6L105.0 474.8L102.5 479.8L93.7 477.3Z" fill="#f5c6c8" stroke="#f5c6c8" stroke-width="0.6"/>
<path d="M143.6 474.8L149.9 471.0L159.8 482.3L152.4 479.8Z" fill="#f5c6c8" stroke="#f5c6c8" stroke-width="0.6"/>
<path d="M173.6 496.0L181.0 493.5L182.3 507.2L178.6 506.0Z" fill="#f5c6c8" stroke="#f5c6c8" stroke-width="0.6"/>
<path d="M103.0 519.7L127.4 518.5L131.1 529.7L136.1 544.7L152.4 558.4L142.4 567.1L128.7 578.3L119.9 569.6L113.7 554.6L107.4 537.2Z" fill="#f5c6c8" stroke="#f5c6c8" stroke-width="0.6"/>
<path d="M88.7 483.5L92.5 492.3L91.2 502.2L88.7 504.7Z" fill="#f5c6c8" stroke="#f5c6c8" stroke-width="0.6"/>
<path d="M429.3 404.9L440.0 402.4L454.3 402.4L454.3 469.8L440.0 469.8L434.3 464.8L426.8 452.3L425.6 432.4Z" fill="#c5c8fd" stroke="#c5c8fd" stroke-width="0.6"/>
<path d="M239.7 375.0L244.7 370.0L319.5 370.0L322.0 390.0L314.5 396.2L307.0 385.0L297.1 376.2L279.6 373.7L264.6 382.5L254.7 395.0L245.9 403.7L242.2 387.5Z" fill="#c5c8fd" stroke="#c5c8fd" stroke-width="0.6"/>
<path d="M189.8 589.6L192.3 569.6L199.8 554.6L212.2 547.1L227.2 548.4L239.7 557.1L249.7 569.6L257.1 582.1L264.6 577.1L284.6 573.3L292.1 582.1L299.6 595.0L187.3 595.0Z" fill="#c5c8fd" stroke="#c5c8fd" stroke-width="0.6"/>
<path d="M366.9 381.2L376.9 372.5L383.1 375.0L381.9 386.2L374.4 385.0Z" fill="#f5c6c8" stroke="#f5c6c8" stroke-width="0.6"/>
<path d="M328.3 486.0L338.2 479.8L348.2 488.5L342.0 494.8L332.0 492.3Z" fill="#f5c6c8" stroke="#f5c6c8" stroke-width="0.6"/>
<path d="M531.0 477.3L539.8 469.8L549.8 466.1L557.2 474.8L559.7 489.8L562.2 502.2L569.7 508.5L592.2 502.2L629.6 494.8L679.5 492.3L729.4 487.3L776.8 489.8L781.8 502.2L779.3 517.2L761.8 525.9L704.5 525.9L654.6 527.2L604.7 523.4L569.7 519.7L564.7 509.7L554.8 504.7L539.8 494.8L533.5 487.3Z" fill="#c5c8fd" stroke="#c5c8fd" stroke-width="0.6"/>
<path d="M428.0 404.9L455.0 402.4L479.9 385.0L482.4 377.5L512.3 373.7L522.3 380.0L526.1 388.7L512.3 407.4L509.8 424.9L502.4 442.4L494.9 452.3L489.9 469.8L487.4 499.7L484.9 519.7L479.9 542.2L474.9 559.6L470.4 562.1L464.9 551.4L454.5 524.9L441.0 493.0L435.7 466.3L429.3 439.9L432.0 426.1Z" fill="#c5c8fd" stroke="#c5c8fd" stroke-width="0.6"/>
<path d="M602.2 367.5L687.0 367.5L679.5 375.0L654.6 382.5L629.6 390.0L614.6 380.0Z" fill="#f5c6c8" stroke="#f5c6c8" stroke-width="0.6"/>
<path d="M963.4 454.8L969.6 444.9L979.6 437.4L997.1 436.1L1019.5 436.1L1042.0 432.4L1054.5 434.9L1055.7 447.3L1044.5 457.3L1027.0 459.8L1004.6 464.8L987.1 467.3L972.1 464.8Z" fill="#c5c8fd" stroke="#c5c8fd" stroke-width="0.6"/>
<path d="M778.8 499.7L783.7 509.7L782.5 522.2L778.8 523.4Z" fill="#c5c8fd" stroke="#c5c8fd" stroke-width="0.6"/>
<path d="M1252.1 367.5L1277.1 367.5L1277.1 401.2L1264.6 392.5L1257.1 380.0Z" fill="#f5c6c8" stroke="#f5c6c8" stroke-width="0.6"/>
<path d="M1173.5 380.0L1177.3 370.0L1189.7 370.0L1187.2 377.5L1179.8 385.0Z" fill="#f5c6c8" stroke="#f5c6c8" stroke-width="0.6"/>
<path d="M1109.9 539.7L1112.4 519.7L1113.6 504.7L1129.9 499.7L1149.8 509.7L1159.8 513.5L1167.3 506.0L1174.8 514.7L1183.5 529.7L1177.3 542.2L1169.8 552.1L1154.8 558.4L1129.9 558.4L1114.9 549.6Z" fill="#c5c8fd" stroke="#c5c8fd" stroke-width="0.6"/>
<path d="M1268.3 529.7L1277.1 529.7L1277.1 569.6L1272.1 554.6Z" fill="#f5c6c8" stroke="#f5c6c8" stroke-width="0.6"/>
<path d="M178.6 612.4L184.8 590.0L192.3 577.5L299.6 577.5L302.1 605.0L297.1 617.4L287.1 634.9L252.2 647.4L229.7 642.4L209.7 639.9L199.8 644.9L196.0 652.4L197.3 669.8L194.8 699.8L179.8 704.8L167.3 702.3L161.1 689.8L164.8 674.8L179.8 652.4L179.8 629.9Z" fill="#c5c8fd" stroke="#c5c8fd" stroke-width="0.6"/>
<path d="M95.0 739.7L112.4 719.7L127.4 719.7L139.9 734.7L144.9 754.7L152.4 779.6L154.9 805.0L102.5 805.0L97.5 779.6Z" fill="#c5c8fd" stroke="#c5c8fd" stroke-width="0.6"/>
<path d="M348.2 752.2L354.5 729.7L361.9 714.7L379.4 699.8L404.4 688.5L416.8 689.8L418.1 709.7L414.3 729.7L404.4 744.7L399.4 759.6L379.4 765.9L359.4 764.6Z" fill="#c5c8fd" stroke="#c5c8fd" stroke-width="0.6"/>
<path d="M348.2 639.9L354.5 634.9L369.4 639.9L378.2 642.4L376.9 652.4L371.9 657.3L364.4 672.3L356.9 654.9Z" fill="#f5c6c8" stroke="#f5c6c8" stroke-width="0.6"/>
<path d="M613.4 616.2L624.6 612.4L642.1 612.4L679.5 614.9L716.9 619.9L754.4 627.4L790.0 639.9L804.3 644.9L804.3 739.7L790.0 734.7L766.8 727.2L741.9 714.7L716.9 699.8L692.0 684.8L667.0 664.8L642.1 647.4L624.6 632.4Z" fill="#f5c6c8" stroke="#f5c6c8" stroke-width="0.6"/>
<path d="M430.0 805.0L437.5 800.8L467.4 797.1L497.4 793.3L522.3 798.3L537.3 805.0Z" fill="#c5c8fd" stroke="#c5c8fd" stroke-width="0.6"/>
<path d="M632.1 805.0L642.1 798.3L667.0 794.6L704.5 788.3L729.4 790.8L754.4 798.3L764.3 805.0Z" fill="#c5c8fd" stroke="#c5c8fd" stroke-width="0.6"/>
<path d="M1027.0 764.6L1032.0 742.2L1042.0 727.2L1054.5 732.2L1074.4 735.9L1091.9 747.2L1104.4 757.1L1124.3 777.1L1140.0 792.1L1154.3 799.6L1154.3 805.0L1066.9 805.0L1052.0 794.6L1037.0 779.6Z" fill="#c5c8fd" stroke="#c5c8fd" stroke-width="0.6"/>
<path d="M777.5 638.6L795.0 644.9L817.4 657.3L842.4 669.8L867.3 684.8L884.8 697.3L896.0 712.2L898.5 729.7L894.8 754.7L892.3 779.6L894.8 805.0L829.9 805.0L832.4 792.1L824.9 777.1L812.4 759.6L795.0 739.7L780.0 729.7L777.5 729.7Z" fill="#f5c6c8" stroke="#f5c6c8" stroke-width="0.6"/>
<path d="M1142.3 639.9L1147.3 634.9L1164.8 632.4L1184.8 633.6L1204.7 639.9L1219.7 642.4L1225.9 647.4L1224.7 662.3L1239.6 669.8L1249.6 689.8L1257.1 704.8L1259.6 729.7L1254.6 744.7L1239.6 749.7L1222.2 739.7L1204.7 727.2L1184.8 709.7L1167.3 689.8L1154.8 669.8L1144.8 654.9Z" fill="#f5c6c8" stroke="#f5c6c8" stroke-width="0.6"/>
<path d="M1060.0 729.7L1075.0 734.7L1092.4 749.7L1109.9 767.1L1129.9 787.1L1144.8 799.6L1152.3 805.0L1060.0 805.0Z" fill="#c5c8fd" stroke="#c5c8fd" stroke-width="0.6"/>
<path d="M96.1 758.8L142.1 758.8L147.0 784.8L154.5 802.2L157.0 817.1L142.1 813.4L124.7 804.7L112.3 802.2L102.3 794.8L97.4 779.9Z" fill="#c5c8fd" stroke="#c5c8fd" stroke-width="0.6"/>
<path d="M427.5 807.2L444.9 799.7L474.7 797.2L497.0 793.5L521.9 797.2L536.8 804.7L549.2 812.1L579.0 812.1L613.7 809.7L636.1 799.7L665.8 794.8L703.1 788.6L727.9 789.8L750.3 794.8L762.7 804.7L772.6 819.6L792.5 824.5L792.5 850.6L427.5 850.6Z" fill="#c5c8fd" stroke="#c5c8fd" stroke-width="0.6"/>
<path d="M777.5 817.1L789.9 822.1L804.8 832.0L814.8 841.9L819.7 850.6L777.5 850.6Z" fill="#c5c8fd" stroke="#c5c8fd" stroke-width="0.6"/>
<path d="M817.2 757.5L889.2 757.5L891.7 784.8L896.7 802.2L906.6 817.1L915.3 832.0L919.0 850.6L837.1 850.6L833.4 832.0L827.2 814.6L832.1 792.3L829.7 774.9Z" fill="#f5c6c8" stroke="#f5c6c8" stroke-width="0.6"/>
<path d="M960.0 850.6L968.7 843.2L978.6 840.7L996.0 845.7L1010.9 850.6Z" fill="#f5c6c8" stroke="#f5c6c8" stroke-width="0.6"/>
<path d="M1027.0 757.5L1030.7 769.9L1040.7 782.3L1058.1 794.8L1077.9 809.7L1097.8 827.0L1112.7 834.5L1127.6 839.4L1142.5 841.9L1142.5 793.5L1124.3 776.9L1104.0 757.0Z" fill="#c5c8fd" stroke="#c5c8fd" stroke-width="0.6"/>
<path d="M1058.4 758.4L1106.0 758.4L1123.5 772.7L1139.3 790.1L1155.2 806.0L1171.0 818.7L1183.7 826.6L1202.8 833.0L1186.9 837.7L1171.0 842.5L1155.2 847.2L1142.5 842.5L1128.2 837.7L1112.3 833.0L1096.5 821.9L1080.6 809.2L1067.9 802.8L1058.4 798.1Z" fill="#c5c8fd" stroke="#c5c8fd" stroke-width="0.6"/>
<path d="M287.4 850.4L292.0 825.1L296.7 806.5L300.0 793.2L305.3 785.2L313.3 778.6L326.6 775.3L339.9 775.9L350.6 773.3L355.9 763.9L353.2 753.3L354.5 738.7L405.1 738.7L401.1 753.3L393.1 766.6L385.1 779.9L385.1 790.6L390.5 801.2L401.1 807.8L417.1 811.8L433.0 806.5L446.3 802.5L459.6 799.9L486.2 797.2L486.2 850.4Z" fill="#c5c8fd" stroke="#c5c8fd" stroke-width="0.6"/>
<path d="M618.4 316.0L628.4 308.5L638.3 316.0L628.4 326.0Z" fill="#f7e2e2" stroke="#f7e2e2" stroke-width="0.6"/>
<path d="M1200.9 95.9L1209.2 90.4L1220.3 102.9L1214.7 109.8L1209.2 107.0L1205.0 100.1Z" fill="#f7e2e2" stroke="#f7e2e2" stroke-width="0.6"/>
<path d="M1207.2 195.0L1229.7 191.2L1248.4 196.2L1234.7 207.4L1219.7 212.4Z" fill="#f7e2e2" stroke="#f7e2e2" stroke-width="0.6"/>
<path d="M1228.4 274.8L1234.7 269.8L1239.1 277.3L1234.7 291.0L1230.9 284.8Z" fill="#f7e2e2" stroke="#f7e2e2" stroke-width="0.6"/>
<path d="M254.7 600.0L259.6 592.5L263.4 601.2L259.6 605.0Z" fill="#e0e2fe" stroke="#e0e2fe" stroke-width="0.6"/>
<path d="M164.8 224.9L179.8 213.6L192.3 223.6L187.3 237.3L194.8 242.3L209.7 237.3L219.7 227.4L239.7 248.6L222.2 264.8L209.7 259.8L189.8 249.8L167.3 247.3L162.3 237.3Z" fill="#f2aaad" stroke="#f2aaad" stroke-width="0.6"/>
<path d="M208.5 171.2L219.7 168.7L229.7 162.5L242.2 167.5L254.7 180.0L265.9 194.9L265.9 201.2L257.1 206.2L242.2 201.9L227.2 195.4L216.0 186.2Z" fill="#f2aaad" stroke="#f2aaad" stroke-width="0.6"/>
<path d="M287.1 211.1L297.1 207.4L312.0 209.9L329.5 222.4L338.2 232.4L339.5 239.8L327.0 234.9L314.5 232.4L299.6 227.4L290.8 222.4Z" fill="#f2aaad" stroke="#f2aaad" stroke-width="0.6"/>
<path d="M764.3 235.0L779.3 225.8L790.0 224.6L790.0 235.0Z" fill="#f2aaad" stroke="#f2aaad" stroke-width="0.6"/>
<path d="M739.4 249.9L754.4 239.9L766.8 229.9L790.0 222.4L804.3 222.4L804.3 259.8L774.3 257.3L754.4 254.9Z" fill="#f2aaad" stroke="#f2aaad" stroke-width="0.6"/>
<path d="M801.6 123.0L806.6 116.4L811.6 103.0L825.0 91.5L846.5 89.8L873.0 81.5L886.5 76.9L909.7 76.0L929.5 72.8L942.8 71.0L956.0 75.3L972.6 81.0L992.5 79.4L1009.0 76.0L1025.6 73.6L1036.6 76.6L1053.0 77.7L1070.0 74.3L1082.0 71.0L1097.6 69.4L1114.0 70.5L1131.0 74.3L1142.0 78.8L1153.0 87.6L1164.0 93.0L1180.0 98.7L1187.0 109.8L1195.3 120.9L1199.5 135.0L1206.0 140.0L1212.0 141.6L1220.3 148.6L1224.4 138.9L1223.0 125.0L1223.0 120.9L1228.6 112.6L1242.5 107.0L1256.3 104.2L1271.6 98.7L1280.0 98.0L1280.0 165.0L1267.4 168.0L1249.4 162.4L1228.6 159.6L1207.8 163.8L1200.9 173.5L1192.6 187.4L1187.0 202.6L1192.6 213.7L1199.5 233.0L1200.9 250.0L1192.2 257.3L1169.8 259.8L1159.8 252.4L1149.8 234.9L1139.8 239.9L1128.6 229.9L1127.4 223.7L1092.4 226.2L1083.7 222.4L1077.5 212.4L1072.5 201.2L1060.0 196.2L1054.5 200.0L1056.9 209.9L1049.5 221.2L1029.5 226.2L1004.6 226.2L979.6 226.2L952.2 227.4L939.7 232.4L919.7 236.1L912.2 247.4L879.8 257.3L842.4 259.8L805.0 264.8L780.0 267.3L775.0 267.3L775.0 219.9L780.0 219.9L805.0 213.7L829.9 208.7L849.9 205.0L862.3 197.5L858.2 189.9L846.5 181.5L838.2 169.9L834.9 158.3L821.6 143.3L808.3 132.5L806.6 125.0Z" fill="#f2aaad" stroke="#f2aaad" stroke-width="0.6"/>
<path d="M1197.2 292.3L1204.7 281.0L1222.2 281.0L1232.2 292.3L1235.9 304.8L1244.6 299.8L1250.9 282.3L1250.9 262.3L1243.4 247.4L1257.1 237.4L1277.1 227.4L1277.1 329.7L1259.6 329.7L1239.6 323.5L1232.2 332.2L1219.7 334.7L1207.2 322.2L1198.5 307.2Z" fill="#f2aaad" stroke="#f2aaad" stroke-width="0.6"/>
<path d="M197.3 595.0L199.8 579.6L206.0 567.1L219.7 565.9L229.7 574.6L232.2 587.1L229.7 595.0Z" fill="#a9abfc" stroke="#a9abfc" stroke-width="0.6"/>
<path d="M442.5 457.3L455.0 439.9L474.9 429.9L489.9 422.4L498.6 423.6L497.4 437.4L487.4 452.3L481.1 474.8L478.7 499.7L476.2 519.7L471.2 539.7L464.9 529.7L457.4 509.7L450.0 484.8L443.7 469.8Z" fill="#a9abfc" stroke="#a9abfc" stroke-width="0.6"/>
<path d="M1126.1 529.7L1129.9 522.2L1142.3 520.9L1153.6 532.2L1144.8 542.2L1132.4 542.2Z" fill="#a9abfc" stroke="#a9abfc" stroke-width="0.6"/>
<path d="M1157.3 529.7L1164.8 517.2L1171.0 522.2L1176.0 532.2L1168.5 540.9Z" fill="#a9abfc" stroke="#a9abfc" stroke-width="0.6"/>
<path d="M366.9 739.7L374.4 719.7L386.9 707.2L401.9 704.8L406.8 714.7L401.9 732.2L391.9 749.7L379.4 757.1L369.4 754.7Z" fill="#a9abfc" stroke="#a9abfc" stroke-width="0.6"/>
<path d="M187.3 605.0L192.3 590.0L199.8 577.5L229.7 577.5L232.2 605.0L229.7 617.4L219.7 619.9L199.8 617.4Z" fill="#a9abfc" stroke="#a9abfc" stroke-width="0.6"/>
<path d="M1167.3 652.4L1177.3 647.4L1192.2 642.4L1209.7 639.9L1219.7 644.9L1219.7 659.8L1232.2 677.3L1244.6 697.3L1252.1 714.7L1252.1 734.7L1244.6 742.2L1234.7 742.2L1222.2 729.7L1207.2 712.2L1192.2 697.3L1177.3 679.8L1167.3 664.8Z" fill="#f2aaad" stroke="#f2aaad" stroke-width="0.6"/>
<path d="M427.5 824.5L442.4 817.1L467.2 818.3L499.5 822.1L524.3 829.5L541.7 839.4L559.1 850.6L427.5 850.6Z" fill="#a9abfc" stroke="#a9abfc" stroke-width="0.6"/>
<path d="M683.2 850.6L690.7 841.9L695.6 827.0L700.6 814.6L710.5 812.1L732.9 817.1L750.3 827.0L762.7 837.0L772.6 840.7L792.5 837.0L792.5 850.6Z" fill="#a9abfc" stroke="#a9abfc" stroke-width="0.6"/>
<path d="M777.5 834.5L789.9 834.5L804.8 841.9L812.3 850.6L777.5 850.6Z" fill="#a9abfc" stroke="#a9abfc" stroke-width="0.6"/>
<path d="M849.5 822.1L854.5 815.9L866.9 813.4L879.3 813.4L891.7 819.6L899.2 832.0L904.1 850.6L850.8 850.6Z" fill="#f2aaad" stroke="#f2aaad" stroke-width="0.6"/>
<path d="M288.7 850.4L293.3 826.5L297.3 809.2L300.0 799.9L305.3 791.9L313.3 785.9L326.6 782.6L339.9 782.6L353.2 783.9L363.9 785.2L371.8 793.2L379.8 803.9L390.5 814.5L401.1 822.5L417.1 826.5L433.0 822.5L446.3 818.5L459.6 817.2L486.2 819.8L486.2 850.4Z" fill="#a9abfc" stroke="#a9abfc" stroke-width="0.6"/>
<path d="M1113.0 166.0L1121.7 161.0L1134.1 162.2L1146.5 167.2L1156.5 174.7L1159.0 183.3L1152.8 189.5L1140.3 188.3L1131.6 183.3L1121.7 177.1L1115.5 172.2Z" fill="#f5c6c8" stroke="#f5c6c8" stroke-width="0.6"/>
<path d="M309.5 219.9L314.5 218.6L315.8 223.6L312.0 224.9Z" fill="#f29094" stroke="#f29094" stroke-width="0.6"/>
<path d="M220.5 181.5L228.0 177.3L239.7 181.5L253.0 189.8L256.3 198.1L246.3 198.1L233.0 193.1L223.0 186.5Z" fill="#f29094" stroke="#f29094" stroke-width="0.6"/>
<path d="M821.6 143.3L824.9 126.4L831.6 122.3L839.9 123.0L921.4 123.0L924.7 108.0L938.0 103.0L959.3 97.6L972.6 95.0L992.5 96.8L1009.0 96.8L1025.6 96.0L1036.6 97.6L1058.8 96.5L1075.4 94.3L1092.0 91.5L1103.0 90.4L1120.0 93.2L1131.0 97.6L1142.0 103.0L1153.0 110.0L1164.0 115.0L1175.0 122.0L1180.0 127.6L1180.0 133.3L1178.7 140.2L1173.0 147.0L1162.0 148.6L1152.8 146.0L1134.0 138.7L1121.7 141.0L1109.3 139.9L1084.5 142.4L1062.0 151.0L1051.0 154.8L1041.0 163.5L1038.6 172.0L1044.8 178.4L1041.0 187.0L1039.8 192.0L1051.0 194.5L1047.0 195.8L1032.0 199.5L1023.7 204.4L1017.4 205.7L1010.0 210.6L999.5 214.0L984.6 219.0L971.3 215.6L954.6 214.0L938.0 216.5L926.4 219.8L913.0 226.4L904.7 224.8L893.0 218.0L879.8 206.5L869.8 198.2L858.2 189.9L846.5 181.5L838.2 169.9L834.9 158.3Z" fill="#f29094" stroke="#f29094" stroke-width="0.6"/>
<path d="M827.4 236.1L842.4 228.7L862.3 221.2L879.8 222.4L892.3 229.9L896.0 237.4L879.8 244.9L854.9 243.6L837.4 239.9Z" fill="#f29094" stroke="#f29094" stroke-width="0.6"/>
<path d="M1131.1 200.0L1142.3 191.2L1157.3 197.5L1169.8 212.4L1184.8 229.9L1179.8 252.4L1167.3 254.9L1154.8 239.9L1142.3 222.4Z" fill="#f29094" stroke="#f29094" stroke-width="0.6"/>
<path d="M1207.7 289.8L1219.7 287.8L1223.4 297.3L1222.2 309.7L1209.7 302.3Z" fill="#f29094" stroke="#f29094" stroke-width="0.6"/>
<path d="M1258.4 284.8L1264.6 277.3L1277.1 274.8L1277.1 314.7L1262.1 309.7L1258.4 297.3Z" fill="#f29094" stroke="#f29094" stroke-width="0.6"/>
<path d="M459.9 517.2L464.9 507.2L472.4 512.2L473.7 524.7L469.9 532.2L463.7 527.2Z" fill="#8d8ffb" stroke="#8d8ffb" stroke-width="0.6"/>
<path d="M379.4 729.7L389.4 717.2L398.1 719.7L396.9 734.7L386.9 742.2L380.6 739.7Z" fill="#8d8ffb" stroke="#8d8ffb" stroke-width="0.6"/>
<path d="M202.3 595.0L204.8 577.5L219.7 577.5L223.5 595.0L221.0 612.4L209.7 614.9Z" fill="#8d8ffb" stroke="#8d8ffb" stroke-width="0.6"/>
<path d="M1192.2 662.3L1202.2 654.9L1212.2 657.3L1222.2 674.8L1234.7 689.8L1244.6 709.7L1247.1 724.7L1239.6 732.2L1232.2 727.2L1219.7 707.2L1204.7 689.8L1194.7 677.3Z" fill="#f29094" stroke="#f29094" stroke-width="0.6"/>
<path d="M427.5 839.4L444.9 834.5L459.8 837.0L472.2 844.4L482.1 850.6L427.5 850.6Z" fill="#8d8ffb" stroke="#8d8ffb" stroke-width="0.6"/>
<path d="M874.3 834.5L879.3 830.8L891.7 833.2L894.2 839.4L884.3 841.9L881.8 850.6L875.6 850.6Z" fill="#f29094" stroke="#f29094" stroke-width="0.6"/>
<path d="M290.0 850.4L294.7 827.8L300.0 806.5L305.3 797.2L314.6 790.6L326.6 787.9L339.9 787.9L353.2 786.6L365.2 789.2L371.8 799.9L378.5 811.8L386.5 822.5L395.8 831.8L406.4 838.4L417.1 842.4L427.7 838.4L441.0 833.1L459.6 833.1L486.2 837.8L486.2 850.4Z" fill="#8d8ffb" stroke="#8d8ffb" stroke-width="0.6"/>
<path d="M839.9 115.0L921.4 115.0L921.4 130.0L926.4 141.6L934.7 151.6L946.3 155.8L946.3 168.2L929.7 168.2L913.0 169.9L896.4 166.6L883.0 160.0L879.8 160.0L873.0 154.7L859.8 148.0L849.9 136.4L839.9 123.0Z" fill="#f2aaad" stroke="#f2aaad" stroke-width="0.6"/>
<path d="M871.5 130.6L878.1 124.8L886.4 131.4L879.8 138.1Z" fill="#f5c6c8" stroke="#f5c6c8" stroke-width="0.6"/>
<path d="M1028.3 118.1L1044.9 113.1L1069.9 111.5L1099.8 109.8L1113.1 111.5L1124.8 115.6L1113.1 123.1L1099.8 129.8L1083.2 133.9L1068.2 135.6L1049.9 136.4L1038.3 133.1L1031.6 126.4Z" fill="#f47279" stroke="#f47279" stroke-width="0.6"/>
<path d="M849.9 155.8L858.2 157.4L873.1 166.6L886.4 169.9L899.8 176.5L913.1 184.9L924.7 191.5L929.7 199.8L931.4 209.8L926.4 218.1L916.4 221.5L906.4 219.8L896.4 213.1L886.4 203.2L878.1 191.5L869.8 183.2L859.8 173.2L851.5 163.2Z" fill="#f47279" stroke="#f47279" stroke-width="0.6"/>
<path d="M1137.3 200.0L1144.8 196.2L1159.8 212.4L1169.8 229.9L1172.3 247.4L1164.8 247.4L1152.3 229.9L1142.3 214.9Z" fill="#f47279" stroke="#f47279" stroke-width="0.6"/>
<path d="M1264.6 287.3L1277.1 282.3L1277.1 307.2L1267.1 302.3Z" fill="#f47279" stroke="#f47279" stroke-width="0.6"/>
<path d="M1204.7 674.8L1209.7 672.3L1222.2 689.8L1234.7 704.8L1242.1 719.7L1237.1 727.2L1229.7 714.7L1214.7 697.3L1207.2 684.8Z" fill="#f47279" stroke="#f47279" stroke-width="0.6"/>
<path d="M292.0 850.4L296.0 830.5L301.3 814.5L306.7 803.9L316.0 795.9L326.6 793.2L339.9 794.5L353.2 793.2L363.9 797.2L369.2 809.2L374.5 819.8L379.8 830.5L387.8 841.1L395.8 850.4Z" fill="#7273fb" stroke="#7273fb" stroke-width="0.6"/>
<path d="M878.1 176.5L886.4 173.2L899.8 179.9L913.1 188.2L921.4 194.8L923.0 203.2L921.4 209.8L913.1 209.8L903.1 204.8L893.1 196.5L883.1 186.5Z" fill="#f7585c" stroke="#f7585c" stroke-width="0.6"/>
<path d="M294.7 850.4L298.7 833.1L304.0 819.8L309.3 809.2L320.0 803.9L333.3 802.5L346.6 801.2L358.5 803.9L365.2 814.5L367.8 826.5L370.5 838.4L371.8 850.4Z" fill="#5857fa" stroke="#5857fa" stroke-width="0.6"/>
<path d="M884.8 181.5L889.8 178.2L899.8 184.9L911.4 191.5L920.5 198.2L921.4 204.8L914.7 206.5L904.7 201.5L894.8 194.8L887.3 188.2Z" fill="#fb3e40" stroke="#fb3e40" stroke-width="0.6"/>
<path d="M298.7 850.4L302.7 835.8L306.7 825.1L310.6 817.2L321.3 814.5L326.6 819.8L330.6 830.5L333.3 841.1L334.6 850.4Z" fill="#5857fa" stroke="#5857fa" stroke-width="0.6"/>
<path d="M891.5 184.5L894.5 184.5L900.0 191.5L897.0 192.5Z" fill="#fd2a26" stroke="#fd2a26" stroke-width="0.6"/>
<path d="M305.3 850.4L306.7 841.1L308.6 833.1L312.0 826.5L323.9 831.8L326.6 841.1L325.9 850.4Z" fill="#4529fb" stroke="#4529fb" stroke-width="0.6"/>
</g>
<clipPath id="cpa"><rect x="88" y="13.5" width="1186" height="845.8"/></clipPath>
<path d="M88.0 62.1h0M101.2 475.7h0M101.2 62.1h0M101.2 48.3h0M114.4 816.3h0M114.4 783.6h0M114.4 767.5h0M114.4 751.6h0M114.4 735.9h0M114.4 720.3h0M114.4 674.7h0M114.4 587.0h0M114.4 572.8h0M114.4 558.7h0M114.4 544.7h0M114.4 62.1h0M114.4 48.3h0M127.5 816.3h0M127.5 799.8h0M127.5 783.6h0M127.5 767.5h0M127.5 751.6h0M127.5 735.9h0M127.5 720.3h0M127.5 558.7h0M127.5 544.7h0M127.5 516.9h0M127.5 48.3h0M140.7 799.8h0M140.7 783.6h0M140.7 767.5h0M140.7 751.6h0M140.7 735.9h0M153.9 816.3h0M153.9 799.8h0M153.9 783.6h0M167.1 767.5h0M167.1 751.6h0M167.1 689.7h0M180.2 751.6h0M180.2 689.7h0M180.2 674.7h0M180.2 659.7h0M193.4 689.7h0M193.4 630.3h0M193.4 615.7h0M193.4 601.3h0M193.4 587.0h0M193.4 156.8h0M206.6 630.3h0M206.6 615.7h0M206.6 601.3h0M206.6 587.0h0M219.8 630.3h0M219.8 615.7h0M219.8 601.3h0M219.8 587.0h0M219.8 572.8h0M233.0 630.3h0M233.0 615.7h0M233.0 601.3h0M233.0 183.5h0M233.0 170.2h0M246.1 196.7h0M246.1 183.5h0M246.1 89.4h0M259.3 89.4h0M272.5 103.0h0M272.5 89.4h0M285.7 103.0h0M285.7 89.4h0M298.8 210.0h0M298.8 103.0h0M298.8 89.4h0M312.0 850.0h0M312.0 833.1h0M312.0 816.3h0M312.0 799.8h0M312.0 210.0h0M312.0 103.0h0M312.0 89.4h0M325.2 850.0h0M325.2 833.1h0M325.2 816.3h0M325.2 799.8h0M325.2 223.2h0M325.2 116.5h0M325.2 103.0h0M325.2 89.4h0M338.4 850.0h0M338.4 833.1h0M338.4 816.3h0M338.4 799.8h0M338.4 116.5h0M338.4 103.0h0M338.4 89.4h0M351.6 850.0h0M351.6 833.1h0M351.6 816.3h0M351.6 799.8h0M351.6 644.9h0M351.6 276.0h0M351.6 130.0h0M351.6 116.5h0M351.6 103.0h0M351.6 89.4h0M364.7 850.0h0M364.7 833.1h0M364.7 816.3h0M364.7 799.8h0M364.7 751.6h0M364.7 735.9h0M364.7 720.3h0M364.7 674.7h0M364.7 659.7h0M364.7 644.9h0M364.7 130.0h0M364.7 116.5h0M364.7 103.0h0M364.7 89.4h0M377.9 850.0h0M377.9 833.1h0M377.9 816.3h0M377.9 767.5h0M377.9 751.6h0M377.9 735.9h0M377.9 720.3h0M377.9 704.9h0M377.9 644.9h0M377.9 130.0h0M377.9 103.0h0M377.9 89.4h0M391.1 850.0h0M391.1 833.1h0M391.1 767.5h0M391.1 751.6h0M391.1 735.9h0M391.1 720.3h0M391.1 704.9h0M391.1 103.0h0M391.1 89.4h0M391.1 75.8h0M404.3 850.0h0M404.3 833.1h0M404.3 735.9h0M404.3 720.3h0M404.3 704.9h0M404.3 689.7h0M404.3 302.3h0M404.3 89.4h0M417.4 850.0h0M417.4 833.1h0M430.6 850.0h0M430.6 833.1h0M430.6 448.6h0M430.6 435.1h0M430.6 421.7h0M430.6 408.3h0M430.6 302.3h0M443.8 850.0h0M443.8 833.1h0M443.8 462.1h0M443.8 448.6h0M443.8 435.1h0M443.8 421.7h0M443.8 408.3h0M443.8 302.3h0M457.0 850.0h0M457.0 833.1h0M457.0 530.7h0M457.0 516.9h0M457.0 503.1h0M457.0 489.4h0M457.0 475.7h0M457.0 462.1h0M457.0 448.6h0M457.0 435.1h0M457.0 421.7h0M457.0 408.3h0M470.2 850.0h0M470.2 833.1h0M470.2 558.7h0M470.2 544.7h0M470.2 530.7h0M470.2 516.9h0M470.2 503.1h0M470.2 489.4h0M470.2 475.7h0M470.2 462.1h0M470.2 448.6h0M470.2 435.1h0M470.2 421.7h0M470.2 408.3h0M470.2 395.0h0M483.3 850.0h0M483.3 833.1h0M483.3 516.9h0M483.3 503.1h0M483.3 489.4h0M483.3 475.7h0M483.3 462.1h0M483.3 448.6h0M483.3 435.1h0M483.3 421.7h0M483.3 408.3h0M483.3 395.0h0M483.3 381.7h0M496.5 850.0h0M496.5 833.1h0M496.5 448.6h0M496.5 435.1h0M496.5 421.7h0M496.5 408.3h0M496.5 395.0h0M496.5 381.7h0M496.5 368.4h0M509.7 850.0h0M509.7 833.1h0M509.7 421.7h0M509.7 408.3h0M509.7 395.0h0M509.7 381.7h0M509.7 368.4h0M522.9 850.0h0M522.9 833.1h0M522.9 381.7h0M536.0 850.0h0M536.0 516.9h0M536.0 503.1h0M536.0 489.4h0M536.0 475.7h0M536.0 462.1h0M549.2 850.0h0M549.2 516.9h0M549.2 503.1h0M549.2 489.4h0M549.2 475.7h0M549.2 462.1h0M562.4 850.0h0M562.4 516.9h0M562.4 503.1h0M562.4 489.4h0M562.4 475.7h0M562.4 462.1h0M575.6 850.0h0M575.6 516.9h0M575.6 503.1h0M575.6 489.4h0M575.6 315.5h0M575.6 302.3h0M575.6 289.2h0M575.6 276.0h0M588.8 516.9h0M588.8 503.1h0M588.8 489.4h0M588.8 315.5h0M588.8 302.3h0M588.8 289.2h0M588.8 276.0h0M601.9 516.9h0M601.9 503.1h0M601.9 489.4h0M601.9 328.7h0M601.9 315.5h0M601.9 302.3h0M601.9 289.2h0M601.9 276.0h0M601.9 262.8h0M615.1 516.9h0M615.1 503.1h0M615.1 489.4h0M615.1 302.3h0M615.1 289.2h0M615.1 276.0h0M615.1 262.8h0M628.3 530.7h0M628.3 516.9h0M628.3 503.1h0M628.3 489.4h0M628.3 289.2h0M628.3 276.0h0M628.3 262.8h0M641.5 530.7h0M641.5 516.9h0M641.5 503.1h0M641.5 489.4h0M641.5 302.3h0M641.5 289.2h0M641.5 276.0h0M641.5 262.8h0M654.6 615.7h0M654.6 530.7h0M654.6 516.9h0M654.6 503.1h0M654.6 489.4h0M654.6 302.3h0M654.6 289.2h0M654.6 276.0h0M654.6 262.8h0M667.8 630.3h0M667.8 615.7h0M667.8 530.7h0M667.8 516.9h0M667.8 503.1h0M667.8 489.4h0M667.8 302.3h0M667.8 289.2h0M667.8 276.0h0M667.8 262.8h0M681.0 644.9h0M681.0 630.3h0M681.0 615.7h0M681.0 530.7h0M681.0 516.9h0M681.0 503.1h0M681.0 489.4h0M681.0 302.3h0M681.0 289.2h0M681.0 276.0h0M681.0 262.8h0M694.2 674.7h0M694.2 659.7h0M694.2 644.9h0M694.2 630.3h0M694.2 615.7h0M694.2 530.7h0M694.2 516.9h0M694.2 503.1h0M694.2 489.4h0M694.2 302.3h0M694.2 289.2h0M694.2 276.0h0M694.2 262.8h0M694.2 249.6h0M707.4 689.7h0M707.4 674.7h0M707.4 659.7h0M707.4 644.9h0M707.4 630.3h0M707.4 615.7h0M707.4 530.7h0M707.4 516.9h0M707.4 503.1h0M707.4 489.4h0M707.4 302.3h0M707.4 289.2h0M707.4 276.0h0M707.4 262.8h0M707.4 249.6h0M720.5 850.0h0M720.5 689.7h0M720.5 674.7h0M720.5 659.7h0M720.5 644.9h0M720.5 630.3h0M720.5 615.7h0M720.5 530.7h0M720.5 516.9h0M720.5 503.1h0M720.5 489.4h0M720.5 289.2h0M720.5 276.0h0M720.5 262.8h0M720.5 249.6h0M733.7 850.0h0M733.7 704.9h0M733.7 689.7h0M733.7 674.7h0M733.7 659.7h0M733.7 644.9h0M733.7 630.3h0M733.7 530.7h0M733.7 516.9h0M733.7 503.1h0M733.7 489.4h0M733.7 289.2h0M733.7 276.0h0M733.7 262.8h0M733.7 249.6h0M733.7 236.4h0M746.9 704.9h0M746.9 689.7h0M746.9 674.7h0M746.9 659.7h0M746.9 644.9h0M746.9 630.3h0M746.9 530.7h0M746.9 516.9h0M746.9 503.1h0M746.9 489.4h0M746.9 289.2h0M746.9 276.0h0M746.9 262.8h0M746.9 249.6h0M746.9 236.4h0M746.9 223.2h0M760.1 720.3h0M760.1 704.9h0M760.1 689.7h0M760.1 674.7h0M760.1 659.7h0M760.1 644.9h0M760.1 630.3h0M760.1 530.7h0M760.1 516.9h0M760.1 503.1h0M760.1 489.4h0M760.1 289.2h0M760.1 276.0h0M760.1 262.8h0M760.1 249.6h0M760.1 236.4h0M760.1 223.2h0M773.2 720.3h0M773.2 704.9h0M773.2 689.7h0M773.2 674.7h0M773.2 659.7h0M773.2 644.9h0M773.2 530.7h0M773.2 516.9h0M773.2 503.1h0M773.2 489.4h0M773.2 289.2h0M773.2 276.0h0M773.2 262.8h0M773.2 249.6h0M773.2 236.4h0M773.2 223.2h0M773.2 210.0h0M786.4 720.3h0M786.4 704.9h0M786.4 689.7h0M786.4 674.7h0M786.4 659.7h0M786.4 644.9h0M786.4 516.9h0M786.4 503.1h0M786.4 289.2h0M786.4 276.0h0M786.4 262.8h0M786.4 249.6h0M786.4 236.4h0M786.4 223.2h0M786.4 210.0h0M799.6 735.9h0M799.6 720.3h0M799.6 704.9h0M799.6 689.7h0M799.6 674.7h0M799.6 659.7h0M799.6 644.9h0M799.6 289.2h0M799.6 276.0h0M799.6 262.8h0M799.6 249.6h0M799.6 236.4h0M799.6 223.2h0M799.6 210.0h0M799.6 156.8h0M799.6 143.4h0M799.6 116.5h0M812.8 751.6h0M812.8 735.9h0M812.8 720.3h0M812.8 704.9h0M812.8 689.7h0M812.8 674.7h0M812.8 659.7h0M812.8 249.6h0M812.8 236.4h0M812.8 223.2h0M812.8 210.0h0M812.8 196.7h0M812.8 170.2h0M812.8 156.8h0M812.8 143.4h0M812.8 130.0h0M812.8 116.5h0M812.8 103.0h0M812.8 89.4h0M812.8 75.8h0M826.0 767.5h0M826.0 751.6h0M826.0 735.9h0M826.0 720.3h0M826.0 704.9h0M826.0 689.7h0M826.0 674.7h0M826.0 659.7h0M826.0 249.6h0M826.0 236.4h0M826.0 223.2h0M826.0 210.0h0M826.0 196.7h0M826.0 183.5h0M826.0 170.2h0M826.0 156.8h0M826.0 143.4h0M826.0 130.0h0M826.0 116.5h0M826.0 103.0h0M826.0 89.4h0M826.0 75.8h0M839.1 816.3h0M839.1 799.8h0M839.1 783.6h0M839.1 767.5h0M839.1 751.6h0M839.1 735.9h0M839.1 720.3h0M839.1 704.9h0M839.1 689.7h0M839.1 674.7h0M839.1 249.6h0M839.1 236.4h0M839.1 223.2h0M839.1 210.0h0M839.1 196.7h0M839.1 183.5h0M839.1 170.2h0M839.1 156.8h0M839.1 143.4h0M839.1 130.0h0M839.1 116.5h0M839.1 103.0h0M839.1 89.4h0M839.1 75.8h0M839.1 20.5h0M852.3 850.0h0M852.3 833.1h0M852.3 816.3h0M852.3 799.8h0M852.3 783.6h0M852.3 767.5h0M852.3 751.6h0M852.3 735.9h0M852.3 720.3h0M852.3 704.9h0M852.3 689.7h0M852.3 249.6h0M852.3 236.4h0M852.3 223.2h0M852.3 210.0h0M852.3 196.7h0M852.3 183.5h0M852.3 170.2h0M852.3 156.8h0M852.3 143.4h0M852.3 130.0h0M852.3 116.5h0M852.3 103.0h0M852.3 89.4h0M852.3 75.8h0M852.3 62.1h0M852.3 34.4h0M852.3 20.5h0M865.5 850.0h0M865.5 833.1h0M865.5 816.3h0M865.5 799.8h0M865.5 783.6h0M865.5 767.5h0M865.5 751.6h0M865.5 735.9h0M865.5 720.3h0M865.5 704.9h0M865.5 689.7h0M865.5 249.6h0M865.5 236.4h0M865.5 223.2h0M865.5 210.0h0M865.5 196.7h0M865.5 183.5h0M865.5 170.2h0M865.5 156.8h0M865.5 143.4h0M865.5 130.0h0M865.5 116.5h0M865.5 103.0h0M865.5 89.4h0M865.5 75.8h0M865.5 62.1h0M865.5 48.3h0M865.5 34.4h0M865.5 20.5h0M878.7 850.0h0M878.7 833.1h0M878.7 816.3h0M878.7 799.8h0M878.7 783.6h0M878.7 767.5h0M878.7 751.6h0M878.7 735.9h0M878.7 720.3h0M878.7 704.9h0M878.7 689.7h0M878.7 615.7h0M878.7 249.6h0M878.7 236.4h0M878.7 223.2h0M878.7 210.0h0M878.7 196.7h0M878.7 183.5h0M878.7 170.2h0M878.7 156.8h0M878.7 143.4h0M878.7 130.0h0M878.7 116.5h0M878.7 103.0h0M878.7 89.4h0M878.7 75.8h0M878.7 62.1h0M878.7 48.3h0M878.7 34.4h0M878.7 20.5h0M891.8 850.0h0M891.8 833.1h0M891.8 816.3h0M891.8 799.8h0M891.8 751.6h0M891.8 735.9h0M891.8 720.3h0M891.8 704.9h0M891.8 630.3h0M891.8 615.7h0M891.8 249.6h0M891.8 236.4h0M891.8 223.2h0M891.8 210.0h0M891.8 196.7h0M891.8 183.5h0M891.8 170.2h0M891.8 156.8h0M891.8 143.4h0M891.8 130.0h0M891.8 116.5h0M891.8 103.0h0M891.8 89.4h0M891.8 75.8h0M891.8 62.1h0M891.8 48.3h0M891.8 34.4h0M891.8 20.5h0M905.0 720.3h0M905.0 630.3h0M905.0 249.6h0M905.0 236.4h0M905.0 223.2h0M905.0 210.0h0M905.0 196.7h0M905.0 183.5h0M905.0 170.2h0M905.0 156.8h0M905.0 143.4h0M905.0 130.0h0M905.0 116.5h0M905.0 103.0h0M905.0 89.4h0M905.0 75.8h0M905.0 62.1h0M905.0 48.3h0M905.0 34.4h0M905.0 20.5h0M918.2 644.9h0M918.2 630.3h0M918.2 435.1h0M918.2 236.4h0M918.2 223.2h0M918.2 210.0h0M918.2 196.7h0M918.2 183.5h0M918.2 170.2h0M918.2 156.8h0M918.2 143.4h0M918.2 130.0h0M918.2 116.5h0M918.2 103.0h0M918.2 89.4h0M918.2 75.8h0M918.2 62.1h0M918.2 48.3h0M918.2 34.4h0M918.2 20.5h0M931.4 630.3h0M931.4 448.6h0M931.4 435.1h0M931.4 421.7h0M931.4 223.2h0M931.4 210.0h0M931.4 196.7h0M931.4 183.5h0M931.4 170.2h0M931.4 156.8h0M931.4 143.4h0M931.4 130.0h0M931.4 116.5h0M931.4 103.0h0M931.4 89.4h0M931.4 75.8h0M931.4 62.1h0M931.4 48.3h0M931.4 34.4h0M931.4 20.5h0M944.6 659.7h0M944.6 448.6h0M944.6 435.1h0M944.6 421.7h0M944.6 223.2h0M944.6 210.0h0M944.6 196.7h0M944.6 183.5h0M944.6 170.2h0M944.6 156.8h0M944.6 143.4h0M944.6 130.0h0M944.6 116.5h0M944.6 103.0h0M944.6 89.4h0M944.6 75.8h0M944.6 62.1h0M944.6 48.3h0M944.6 34.4h0M944.6 20.5h0M957.7 644.9h0M957.7 448.6h0M957.7 435.1h0M957.7 421.7h0M957.7 223.2h0M957.7 210.0h0M957.7 196.7h0M957.7 183.5h0M957.7 170.2h0M957.7 156.8h0M957.7 143.4h0M957.7 130.0h0M957.7 116.5h0M957.7 103.0h0M957.7 89.4h0M957.7 75.8h0M957.7 62.1h0M957.7 48.3h0M957.7 34.4h0M957.7 20.5h0M970.9 674.7h0M970.9 659.7h0M970.9 462.1h0M970.9 448.6h0M970.9 435.1h0M970.9 421.7h0M970.9 223.2h0M970.9 210.0h0M970.9 196.7h0M970.9 183.5h0M970.9 170.2h0M970.9 156.8h0M970.9 143.4h0M970.9 130.0h0M970.9 116.5h0M970.9 103.0h0M970.9 89.4h0M970.9 75.8h0M970.9 62.1h0M970.9 48.3h0M970.9 34.4h0M970.9 20.5h0M984.1 674.7h0M984.1 462.1h0M984.1 448.6h0M984.1 435.1h0M984.1 421.7h0M984.1 223.2h0M984.1 210.0h0M984.1 196.7h0M984.1 183.5h0M984.1 170.2h0M984.1 156.8h0M984.1 143.4h0M984.1 130.0h0M984.1 116.5h0M984.1 103.0h0M984.1 89.4h0M984.1 75.8h0M984.1 62.1h0M984.1 48.3h0M984.1 34.4h0M984.1 20.5h0M997.3 689.7h0M997.3 674.7h0M997.3 462.1h0M997.3 448.6h0M997.3 435.1h0M997.3 223.2h0M997.3 210.0h0M997.3 196.7h0M997.3 183.5h0M997.3 170.2h0M997.3 156.8h0M997.3 143.4h0M997.3 130.0h0M997.3 116.5h0M997.3 103.0h0M997.3 89.4h0M997.3 75.8h0M997.3 62.1h0M997.3 48.3h0M997.3 34.4h0M997.3 20.5h0M1010.4 689.7h0M1010.4 462.1h0M1010.4 448.6h0M1010.4 435.1h0M1010.4 421.7h0M1010.4 210.0h0M1010.4 196.7h0M1010.4 183.5h0M1010.4 170.2h0M1010.4 156.8h0M1010.4 143.4h0M1010.4 130.0h0M1010.4 116.5h0M1010.4 103.0h0M1010.4 89.4h0M1010.4 75.8h0M1010.4 62.1h0M1010.4 48.3h0M1010.4 34.4h0M1010.4 20.5h0M1023.6 462.1h0M1023.6 448.6h0M1023.6 435.1h0M1023.6 421.7h0M1023.6 210.0h0M1023.6 196.7h0M1023.6 183.5h0M1023.6 170.2h0M1023.6 156.8h0M1023.6 143.4h0M1023.6 130.0h0M1023.6 116.5h0M1023.6 103.0h0M1023.6 89.4h0M1023.6 75.8h0M1023.6 62.1h0M1023.6 48.3h0M1023.6 34.4h0M1023.6 20.5h0M1036.8 462.1h0M1036.8 448.6h0M1036.8 435.1h0M1036.8 421.7h0M1036.8 210.0h0M1036.8 196.7h0M1036.8 183.5h0M1036.8 170.2h0M1036.8 156.8h0M1036.8 143.4h0M1036.8 130.0h0M1036.8 116.5h0M1036.8 103.0h0M1036.8 89.4h0M1036.8 75.8h0M1036.8 62.1h0M1036.8 48.3h0M1036.8 34.4h0M1036.8 20.5h0M1050.0 462.1h0M1050.0 448.6h0M1050.0 435.1h0M1050.0 421.7h0M1050.0 210.0h0M1050.0 196.7h0M1050.0 183.5h0M1050.0 170.2h0M1050.0 156.8h0M1050.0 143.4h0M1050.0 130.0h0M1050.0 116.5h0M1050.0 103.0h0M1050.0 89.4h0M1050.0 75.8h0M1050.0 62.1h0M1050.0 48.3h0M1050.0 34.4h0M1050.0 20.5h0M1063.2 462.1h0M1063.2 448.6h0M1063.2 435.1h0M1063.2 196.7h0M1063.2 183.5h0M1063.2 170.2h0M1063.2 156.8h0M1063.2 143.4h0M1063.2 130.0h0M1063.2 116.5h0M1063.2 103.0h0M1063.2 89.4h0M1063.2 75.8h0M1063.2 62.1h0M1063.2 48.3h0M1063.2 34.4h0M1063.2 20.5h0M1076.3 448.6h0M1076.3 435.1h0M1076.3 196.7h0M1076.3 183.5h0M1076.3 170.2h0M1076.3 156.8h0M1076.3 143.4h0M1076.3 130.0h0M1076.3 116.5h0M1076.3 103.0h0M1076.3 89.4h0M1076.3 75.8h0M1076.3 62.1h0M1076.3 48.3h0M1076.3 34.4h0M1076.3 20.5h0M1089.5 210.0h0M1089.5 196.7h0M1089.5 183.5h0M1089.5 170.2h0M1089.5 156.8h0M1089.5 143.4h0M1089.5 130.0h0M1089.5 116.5h0M1089.5 103.0h0M1089.5 89.4h0M1089.5 75.8h0M1089.5 62.1h0M1089.5 48.3h0M1089.5 34.4h0M1089.5 20.5h0M1102.7 210.0h0M1102.7 196.7h0M1102.7 183.5h0M1102.7 170.2h0M1102.7 156.8h0M1102.7 143.4h0M1102.7 130.0h0M1102.7 116.5h0M1102.7 103.0h0M1102.7 89.4h0M1102.7 75.8h0M1102.7 62.1h0M1102.7 48.3h0M1102.7 34.4h0M1102.7 20.5h0M1115.9 544.7h0M1115.9 489.4h0M1115.9 210.0h0M1115.9 196.7h0M1115.9 183.5h0M1115.9 170.2h0M1115.9 156.8h0M1115.9 143.4h0M1115.9 130.0h0M1115.9 116.5h0M1115.9 103.0h0M1115.9 89.4h0M1115.9 75.8h0M1115.9 62.1h0M1115.9 48.3h0M1115.9 34.4h0M1115.9 20.5h0M1129.0 544.7h0M1129.0 530.7h0M1129.0 516.9h0M1129.0 503.1h0M1129.0 489.4h0M1129.0 475.7h0M1129.0 210.0h0M1129.0 196.7h0M1129.0 183.5h0M1129.0 170.2h0M1129.0 156.8h0M1129.0 143.4h0M1129.0 130.0h0M1129.0 116.5h0M1129.0 103.0h0M1129.0 89.4h0M1129.0 75.8h0M1129.0 62.1h0M1129.0 48.3h0M1129.0 34.4h0M1129.0 20.5h0M1142.2 674.7h0M1142.2 659.7h0M1142.2 644.9h0M1142.2 630.3h0M1142.2 516.9h0M1142.2 503.1h0M1142.2 489.4h0M1142.2 223.2h0M1142.2 210.0h0M1142.2 196.7h0M1142.2 183.5h0M1142.2 170.2h0M1142.2 156.8h0M1142.2 143.4h0M1142.2 130.0h0M1142.2 116.5h0M1142.2 103.0h0M1142.2 89.4h0M1142.2 75.8h0M1142.2 62.1h0M1142.2 48.3h0M1142.2 34.4h0M1142.2 20.5h0M1155.4 674.7h0M1155.4 659.7h0M1155.4 644.9h0M1155.4 236.4h0M1155.4 223.2h0M1155.4 210.0h0M1155.4 196.7h0M1155.4 183.5h0M1155.4 170.2h0M1155.4 156.8h0M1155.4 143.4h0M1155.4 130.0h0M1155.4 116.5h0M1155.4 103.0h0M1155.4 89.4h0M1155.4 75.8h0M1155.4 62.1h0M1155.4 48.3h0M1155.4 34.4h0M1155.4 20.5h0M1168.6 689.7h0M1168.6 674.7h0M1168.6 659.7h0M1168.6 644.9h0M1168.6 516.9h0M1168.6 249.6h0M1168.6 236.4h0M1168.6 223.2h0M1168.6 210.0h0M1168.6 196.7h0M1168.6 183.5h0M1168.6 170.2h0M1168.6 156.8h0M1168.6 143.4h0M1168.6 130.0h0M1168.6 116.5h0M1168.6 103.0h0M1168.6 89.4h0M1168.6 75.8h0M1168.6 62.1h0M1168.6 48.3h0M1168.6 34.4h0M1168.6 20.5h0M1181.8 704.9h0M1181.8 689.7h0M1181.8 236.4h0M1181.8 223.2h0M1181.8 210.0h0M1181.8 183.5h0M1181.8 170.2h0M1181.8 156.8h0M1181.8 143.4h0M1181.8 130.0h0M1181.8 116.5h0M1181.8 103.0h0M1181.8 89.4h0M1181.8 75.8h0M1181.8 62.1h0M1181.8 48.3h0M1181.8 34.4h0M1181.8 20.5h0M1194.9 704.9h0M1194.9 689.7h0M1194.9 170.2h0M1194.9 156.8h0M1194.9 143.4h0M1194.9 130.0h0M1194.9 116.5h0M1194.9 103.0h0M1194.9 89.4h0M1194.9 75.8h0M1194.9 62.1h0M1194.9 48.3h0M1194.9 34.4h0M1194.9 20.5h0M1208.1 720.3h0M1208.1 704.9h0M1208.1 689.7h0M1208.1 156.8h0M1208.1 143.4h0M1208.1 130.0h0M1208.1 116.5h0M1208.1 103.0h0M1208.1 89.4h0M1208.1 75.8h0M1208.1 62.1h0M1208.1 48.3h0M1208.1 34.4h0M1208.1 20.5h0M1221.3 720.3h0M1221.3 704.9h0M1221.3 689.7h0M1221.3 156.8h0M1221.3 143.4h0M1221.3 130.0h0M1221.3 116.5h0M1221.3 103.0h0M1221.3 89.4h0M1221.3 75.8h0M1221.3 62.1h0M1221.3 48.3h0M1221.3 34.4h0M1221.3 20.5h0M1234.5 735.9h0M1234.5 720.3h0M1234.5 704.9h0M1234.5 689.7h0M1234.5 587.0h0M1234.5 572.8h0M1234.5 544.7h0M1234.5 530.7h0M1234.5 156.8h0M1234.5 143.4h0M1234.5 130.0h0M1234.5 116.5h0M1234.5 103.0h0M1234.5 89.4h0M1234.5 75.8h0M1234.5 62.1h0M1234.5 48.3h0M1234.5 34.4h0M1247.6 735.9h0M1247.6 704.9h0M1247.6 689.7h0M1247.6 644.9h0M1247.6 630.3h0M1247.6 615.7h0M1247.6 530.7h0M1247.6 236.4h0M1247.6 223.2h0M1247.6 156.8h0M1247.6 143.4h0M1247.6 130.0h0M1247.6 116.5h0M1247.6 103.0h0M1247.6 89.4h0M1247.6 75.8h0M1247.6 62.1h0M1247.6 48.3h0M1260.8 615.7h0M1260.8 544.7h0M1260.8 530.7h0M1260.8 236.4h0M1260.8 223.2h0M1260.8 210.0h0M1260.8 196.7h0M1260.8 183.5h0M1260.8 170.2h0M1260.8 156.8h0M1260.8 143.4h0M1260.8 130.0h0M1260.8 116.5h0M1260.8 103.0h0M1260.8 89.4h0M1260.8 75.8h0M1260.8 62.1h0M1274.0 615.7h0M1274.0 156.8h0M1274.0 143.4h0M1274.0 130.0h0M1274.0 116.5h0M1274.0 103.0h0M1274.0 89.4h0M1274.0 75.8h0M1274.0 62.1h0" stroke="#000" stroke-width="2.7" stroke-linecap="round" fill="none"/>
<g clip-path="url(#cpa)" fill="none" stroke="#1c2a2a" stroke-width="1.3" stroke-linejoin="round">
<path d="M843.2 11.7L843.2 14.2L844.9 26.6L842.4 43.3L834.9 53.2L824.9 64.9L811.6 76.5L797.5 89.8L799.1 103.1L808.3 118.1L806.6 129.8L810.8 143.1L809.1 156.4L807.4 131.6L812.4 141.6L809.9 156.6L813.3 169.9L826.6 173.6L838.2 168.2L844.9 178.2L851.5 189.9L861.5 197.3L853.2 204.8L829.9 208.1L809.9 207.3L793.3 213.1L780.0 219.8L790.0 214.9L773.1 222.4L759.3 233.6L756.8 238.6L760.6 248.6L770.6 251.1L790.0 253.6L780.0 253.6L805.0 252.4L842.4 249.9L879.8 247.4L904.8 239.9L919.7 233.6L942.2 224.9L967.1 217.4L987.1 219.9L1004.6 214.9L1029.5 207.4L1052.0 197.5L1075.8 197.0L1089.4 210.7L1103.1 217.5L1118.0 211.9L1129.2 208.8L1134.1 210.7L1141.6 219.3L1150.3 228.0L1156.5 233.0L1169.0 245.6L1174.5 230.3L1173.2 213.7L1159.3 197.1L1181.5 184.6L1199.5 170.7L1204.3 156.9L1199.5 143.0L1198.1 125.0L1195.3 118.1L1187.0 105.6L1180.1 89.7L1207.8 78.6L1234.1 80.7L1268.8 89.7L1270.2 102.9L1253.5 109.8L1243.8 120.9"/>
<path d="M807.4 131.6L821.6 143.3L834.9 158.3L838.2 168.2"/>
<path d="M1249.4 133.3L1260.5 137.5L1271.6 129.2"/>
<path d="M1099.7 12.1L1109.4 19.7L1120.5 30.8L1124.7 47.4L1130.2 50.2"/>
<path d="M1133.0 20.4L1144.1 14.2L1145.4 12.1"/>
<path d="M1133.0 20.4L1142.7 29.4"/>
<path d="M1192.6 12.1L1200.9 23.9L1207.8 32.2L1220.3 28.7"/>
<path d="M1249.4 50.2L1274.3 47.4"/>
<path d="M874.8 12.5L883.1 21.6L893.1 27.5L904.7 27.5L921.4 24.1L936.3 21.6L937.2 12.5"/>
<path d="M987.9 20.8L997.9 20.0L996.2 26.6Z"/>
<path d="M864.0 102.3L878.1 103.1L889.8 99.8L894.8 102.3L889.8 105.6L878.1 104.0Z"/>
<path d="M853.2 129.8L878.1 120.6L886.4 124.8L888.1 136.4L883.1 148.0L866.5 144.7L856.5 141.4Z"/>
<path d="M850.7 156.6L853.2 169.9L865.7 174.9L869.0 169.9L854.8 159.1Z"/>
<path d="M965.4 143.3L970.4 140.8L975.4 144.1L970.4 148.3Z"/>
<path d="M987.1 169.7L997.1 157.2L1005.8 146.0L1013.3 148.5L1023.3 137.2L1032.0 146.0L1032.0 157.2L1022.0 169.7L1009.5 184.7L997.1 179.7Z"/>
<path d="M965.9 143.5L970.9 141.0L975.9 144.7L970.9 148.5Z"/>
<path d="M1060.9 156.0L1063.4 151.7L1075.8 151.1L1087.0 143.6L1101.9 140.5L1108.7 143.6L1112.4 156.0L1109.3 159.1L1096.9 166.0L1084.5 169.7L1077.0 166.0L1069.6 162.2Z"/>
<path d="M1066.5 183.3L1074.5 181.5L1077.7 184.6L1074.5 185.8Z"/>
<path d="M1086.3 197.0L1089.4 189.5L1099.4 193.3L1105.6 197.0L1101.9 202.0L1089.4 200.7Z"/>
<path d="M1127.3 183.3L1128.5 169.7L1131.0 170.3L1136.0 182.7L1129.2 185.8Z"/>
<path d="M1010.0 143.6L1023.7 136.2L1031.7 143.6L1031.7 157.3L1022.4 168.4L1013.7 179.6L1010.0 182.1"/>
<path d="M1271.6 180.4L1260.5 178.4L1254.9 183.2L1263.3 188.8L1271.6 192.9"/>
<path d="M1274.3 222.0L1270.9 222.0L1270.9 235.9L1274.3 237.3"/>
<path d="M614.6 276.1L642.1 271.1L679.5 267.3L716.9 267.8L733.1 276.1L711.9 282.3L697.0 289.8L667.0 292.3L647.1 287.3L629.6 281.0Z"/>
<path d="M421.8 303.5L429.0 298.6L443.7 302.0L455.0 316.0L447.5 321.0L437.5 314.7L425.0 312.0Z"/>
<path d="M430.5 435.9L457.1 407.9L483.8 391.9L497.1 386.6L510.4 410.6L510.4 422.6L489.1 453.2L481.1 471.8L478.4 493.1L481.1 514.4L475.8 533.1L470.5 551.7L465.1 541.0L457.1 525.1L446.5 485.1L437.2 461.2Z"/>
<path d="M539.8 504.7L532.3 492.3L531.0 477.3L548.5 457.3L558.5 466.1L561.0 492.3L576.0 496.0L594.7 488.5L614.6 483.5L654.6 486.0L694.5 489.8L706.9 493.5L736.9 497.2L754.4 507.2L768.1 517.2L754.4 523.4L704.5 524.7L654.6 527.2L604.7 522.2L567.2 520.9"/>
<path d="M954.7 436.1L969.6 430.6L987.1 433.6L990.8 444.9L979.6 449.8L964.6 452.3Z"/>
<path d="M1005.8 449.8L1019.5 432.4L1037.0 428.6L1049.5 427.9L1064.4 433.6L1069.4 447.3L1061.9 458.6L1049.5 464.8L1037.0 464.8L1019.5 458.6Z"/>
<path d="M1113.6 532.2L1116.1 504.7L1128.6 481.0L1139.8 494.8L1146.1 509.7L1146.1 522.2L1139.8 532.2L1128.6 540.9Z"/>
<path d="M1060.0 432.4L1067.5 437.4L1070.0 447.3L1063.7 457.3L1060.0 459.8"/>
<path d="M1159.8 674.8L1167.3 666.1L1207.2 664.8L1219.7 674.8L1234.7 693.5L1247.1 693.5L1255.9 706.0L1254.6 727.2L1252.1 739.7L1234.7 742.2L1219.7 729.7L1207.2 718.5L1189.7 713.5L1179.8 704.8L1167.3 689.8Z"/>
<path d="M743.0 645.0L774.0 645.0L790.0 652.0L802.5 660.0L787.0 664.0L762.0 652.0Z"/>
<path d="M827.4 758.4L824.9 752.2L812.4 737.2L812.4 729.7L824.9 724.7L839.9 724.7L854.9 733.4L864.8 744.7L868.6 754.7L868.6 767.1L864.8 777.1L854.9 779.6"/>
<path d="M857.0 858.1L847.0 837.0L838.3 817.1L837.1 799.7L852.0 791.0L865.7 799.7L879.3 803.4L889.2 809.7"/>
<path d="M904.1 841.9L907.9 858.1"/>
<path d="M927.2 643.6L932.2 641.1L945.9 643.6L944.7 648.6L932.2 648.6Z"/>
<path d="M953.4 659.8L958.4 656.1L964.6 660.3L958.4 662.3Z"/>
<path d="M199.8 580.0L202.3 612.4L209.7 617.4L219.7 616.2L223.5 600.0L219.7 587.5L212.2 580.0"/>
<path d="M113.7 729.7L127.4 728.5L132.4 739.7L137.4 759.6L141.1 782.1L134.9 794.6L127.4 802.1L117.4 799.6L112.4 769.6L109.9 744.7Z"/>
<path d="M113.7 530.9L127.4 528.4L128.7 534.7L114.9 534.7Z"/>
<path d="M199.3 595.0L199.8 587.1L206.0 573.3L219.7 587.1L222.2 595.0"/>
<path d="M364.4 752.2L359.4 752.2L356.9 739.7L363.2 722.2L376.9 704.8L404.4 689.8L408.1 707.2L401.9 727.2L391.9 749.7L376.9 764.6"/>
<path d="M364.4 733.4L370.7 737.2L364.4 740.9Z"/>
<path d="M310.6 858.4L305.3 846.4L306.0 830.5L310.6 814.5L317.3 801.2L325.3 794.5L338.6 797.9L351.9 794.3L365.2 800.5L370.5 814.5L378.5 826.5L390.5 834.5L403.8 839.8L417.1 843.8L430.4 838.4L443.7 833.1L459.6 833.8L480.0 837.8L443.7 833.2L462.3 834.5L492.1 840.7L516.9 845.7L546.7 850.6L516.9 858.1"/>
<path d="M336.6 858.4L337.9 849.1L341.2 850.4L338.6 858.4"/>
<path d="M1159.8 197.5L1171.0 212.4L1174.8 224.9L1169.8 244.9"/>
</g>
<g font-size="28.4" fill="#1c2a2a" stroke="#1c2a2a" stroke-width="0.35" text-anchor="middle">
<text class="cl" letter-spacing="-1.2" transform="translate(842.5,49) rotate(-58)" y="10.2">0.2</text>
<text class="cl" letter-spacing="-1.2" transform="translate(1147,43) rotate(-62)" y="10.2">0.2</text>
<text class="cl" letter-spacing="-1.2" transform="translate(1236,41) rotate(38)" y="10.2">0.2</text>
<text class="cl" letter-spacing="-1.2" transform="translate(885,142.5) rotate(-60)" y="10.2">0.2</text>
<text class="cl" letter-spacing="-1.2" transform="translate(994,150) rotate(-62)" y="10.2">0.4</text>
<text class="cl" transform="translate(1092.5,171) rotate(-12)" y="10.2">0.2</text>
<text class="cl" letter-spacing="-1.2" transform="translate(1240,125) rotate(-80)" y="10.2">0.2</text>
<text class="cl" letter-spacing="-1.2" transform="translate(1149,221) rotate(55)" y="10.2">0.2</text>
<text class="cl" transform="translate(788,253) rotate(0)" y="10.2">0.2</text>
<text class="cl" transform="translate(666,293) rotate(0)" y="10.2">0.2</text>
<text class="cl" letter-spacing="-1.2" transform="translate(455.5,501) rotate(-79)" y="10.2">0.2</text>
<text class="cl" transform="translate(611.7,485.5) rotate(-8)" y="10.2">0.2</text>
<text class="cl" letter-spacing="-1.2" transform="translate(546,511) rotate(40)" y="10.2">0.2</text>
<text class="cl" transform="translate(971.5,450.5) rotate(23)" y="10.2">0.2</text>
<text class="cl" letter-spacing="-1.2" transform="translate(1011,435) rotate(-36)" y="10.2">0.2</text>
<text class="cl" letter-spacing="-1.2" transform="translate(1118.5,501.5) rotate(-75)" y="10.2">0.2</text>
<text class="cl" letter-spacing="-1.2" transform="translate(200,612) rotate(68)" y="10.2">0.2</text>
<text class="cl" transform="translate(1189,667) rotate(0)" y="10.2">0.2</text>
<text class="cl" transform="translate(780,663) rotate(10)" y="10.2">0.2</text>
<text class="cl" transform="translate(373,764.5) rotate(0)" y="10.2">0.2</text>
<text class="cl" letter-spacing="-1.2" transform="translate(112,782) rotate(90)" y="10.2">0.2</text>
<text class="cl" letter-spacing="-1.2" transform="translate(839,774) rotate(52)" y="10.2">0.2</text>
<text class="cl" letter-spacing="-1.2" transform="translate(900,827) rotate(66)" y="10.2">0.2</text>
<text class="cl" transform="translate(500,841.5) rotate(12)" y="10.2">0.2</text>
</g>
<g clip-path="url(#cpa)" fill="none" stroke="#000" stroke-width="3.3" stroke-linejoin="round" stroke-linecap="round">
<path d="M88.3 120.0L90.0 129.1L101.6 129.9L108.3 134.1L111.6 144.1L118.3 143.2L138.2 141.6L146.5 147.4L154.0 149.1L161.5 146.6L168.1 140.7L179.8 140.7L191.4 140.7L179.8 143.2L188.1 153.2L196.4 152.4L206.4 158.2L208.1 166.5L206.4 171.5L216.4 169.0L229.7 175.7L238.0 184.8L238.0 194.0L244.7 192.3L254.6 199.8L258.8 204.8L271.3 205.6L284.6 204.0L296.2 206.4"/>
<path d="M312.0 211.1L325.8 222.4L337.0 232.4L339.5 242.3L344.5 257.3L353.2 259.8L352.0 274.8L342.0 282.3L334.5 289.7L333.2 298.5L340.7 296.0L344.5 304.7L348.2 287.2L361.9 284.8L370.7 287.2L368.2 302.2L371.9 303.5L376.9 292.2L386.9 291.0L401.9 297.2L411.8 303.5L414.3 302.2L419.3 304.7L425.6 317.2L423.1 319.7L431.8 316.7"/>
<path d="M296.2 206.4L309.5 211.4L320.0 218.1"/>
<path d="M425.0 314.2L430.0 314.7L440.0 316.0L450.0 318.5L462.4 322.2L483.6 319.7L504.9 330.9L524.8 348.4L543.5 350.9L549.8 364.6L553.5 384.6"/>
<path d="M553.0 381.2L549.8 395.0L537.3 414.9L522.3 429.9L507.3 447.3L497.4 459.8L496.1 494.8L489.9 529.7L482.4 554.6L471.2 569.6L467.4 582.1L455.0 589.6L430.0 593.3L422.5 592.8"/>
<path d="M440.0 593.7L424.3 595.0L421.8 598.7L411.8 603.7L409.3 606.2L391.9 612.4L370.7 633.6L369.4 662.3L361.9 679.8L349.5 699.8L342.0 717.2L324.5 732.2L312.0 744.7L304.6 759.6L294.6 769.6L274.6 772.1L254.7 767.1L242.2 759.6L239.7 764.6L244.7 770.9L254.7 777.1L257.1 792.1L263.4 805.0"/>
<path d="M262.5 798.5L263.7 805.9L257.5 817.1L251.3 827.0L238.9 833.2L219.0 838.2L204.1 840.7L191.7 841.9L189.2 838.2L188.7 845.7L193.0 850.6L189.2 859.3"/>
<path d="M196.4 140.7L206.4 139.9L207.2 147.4L203.1 149.9L196.4 149.9L198.9 146.6L198.4 142.4Z"/>
<path d="M100.0 118.3L104.1 122.5"/>
<path d="M87.7 16.6L92.3 21.6L99.8 22.5L94.8 24.9L98.1 27.4L103.1 28.3L109.8 34.1L105.6 40.7L99.8 35.8L93.1 34.9L87.7 37.4"/>
<path d="M124.7 34.9L133.1 34.1L142.2 34.6L146.0 38.3L141.4 41.6L131.4 42.9L125.6 41.2Z"/>
<path d="M194.9 66.5L200.4 63.2L202.9 66.5L197.9 70.7L195.9 69.0Z" fill="#000"/>
<path d="M203.7 85.2L209.6 89.8"/>
<path d="M796.6 11.7L796.6 14.2L793.3 20.0L799.1 31.6L800.8 43.3L796.6 54.9L792.5 68.2L787.5 79.9L781.7 86.5L786.7 89.8L790.0 99.8L790.8 109.8L793.3 118.1L801.6 124.8L806.6 124.8L808.3 133.1L818.3 139.7L828.2 149.7L834.9 160.0"/>
<path d="M834.9 158.3L838.2 169.9L846.5 181.5L858.2 189.9L869.8 198.2L879.8 206.5L893.1 218.1L904.7 224.8L913.1 226.4L926.4 219.8L938.0 216.5L954.6 214.0L971.3 215.6L984.6 219.0L999.5 214.0L1012.8 207.3L1020.0 206.5"/>
<path d="M1017.4 205.7L1023.7 204.4L1032.3 199.5L1047.2 195.8L1062.1 196.4L1072.1 200.7L1078.3 210.7L1082.0 220.6L1090.7 224.3L1106.8 223.1L1126.7 223.1"/>
<path d="M1127.4 223.7L1128.6 229.9L1139.8 239.9L1137.3 254.9L1133.6 267.3L1136.1 274.8L1132.4 287.3L1126.9 293.5L1132.4 304.8L1139.8 317.2L1154.8 332.2L1167.3 349.7L1171.0 359.6L1177.3 372.1L1184.8 389.6L1187.2 397.1"/>
<path d="M1182.3 382.5L1187.2 395.0L1182.3 403.7L1189.7 419.9L1193.5 429.9L1189.7 447.3L1179.8 454.8L1174.8 467.3L1169.8 482.3L1166.0 499.7L1167.3 519.7L1169.8 529.7L1177.3 542.2L1184.8 557.1L1192.2 569.6L1199.7 582.1L1202.2 595.0"/>
<path d="M1197.2 580.0L1202.2 587.5L1201.0 600.0L1204.7 619.9L1207.2 634.9L1212.2 654.9L1219.7 667.3L1229.7 679.8L1234.7 692.3L1239.6 709.7L1247.1 724.7L1252.1 734.7L1249.6 742.2L1253.4 754.7L1252.1 763.4L1257.1 760.9L1267.1 770.9L1274.6 772.1"/>
<path d="M1122.4 236.1L1126.1 233.6L1128.6 238.6L1124.4 241.1Z"/>
<path d="M1185.6 94.5L1192.6 93.2L1195.3 98.7L1200.9 101.5L1212.0 104.2L1209.2 111.2L1198.1 117.4L1193.3 112.6L1188.4 102.9Z"/>
</g>
<rect x="88" y="13.5" width="1186" height="845.8" fill="none" stroke="#000" stroke-width="1.6"/>
<path d="M76.5 13.5H88M1274 13.5H1285.5M76.5 150.1H88M1274 150.1H1285.5M76.5 282.6H88M1274 282.6H1285.5M76.5 415.0H88M1274 415.0H1285.5M76.5 551.7H88M1274 551.7H1285.5M76.5 697.3H88M1274 697.3H1285.5M76.5 858.6H88M1274 858.6H1285.5M219.8 2.0V13.5M219.8 859.3V870.8M615.1 2.0V13.5M615.1 859.3V870.8M1010.4 2.0V13.5M1010.4 859.3V870.8" stroke="#000" stroke-width="1.6" fill="none"/>
<text x="68" y="24.5" text-anchor="end" font-size="28.6" letter-spacing="0.9" xml:space="preserve">20°N</text>
<text x="68" y="161.1" text-anchor="end" font-size="28.6" letter-spacing="0.9" xml:space="preserve">10°N</text>
<text x="68" y="293.6" text-anchor="end" font-size="28.6" letter-spacing="0.9" xml:space="preserve">0° </text>
<text x="68" y="426.0" text-anchor="end" font-size="28.6" letter-spacing="0.9" xml:space="preserve">10°S</text>
<text x="68" y="562.7" text-anchor="end" font-size="28.6" letter-spacing="0.9" xml:space="preserve">20°S</text>
<text x="68" y="708.3" text-anchor="end" font-size="28.6" letter-spacing="0.9" xml:space="preserve">30°S</text>
<text x="68" y="869.6" text-anchor="end" font-size="28.6" letter-spacing="0.9" xml:space="preserve">40°S</text>
<text x="224.6" y="897" text-anchor="middle" font-size="28.6" letter-spacing="0.9">60°W</text>
<text x="619.9" y="897" text-anchor="middle" font-size="28.6" letter-spacing="0.9">30°W</text>
<text x="1015.2" y="897" text-anchor="middle" font-size="28.6" letter-spacing="0.9">0°</text>
<rect x="1298" y="13.50" width="47.5" height="45.02" fill="#fd1f12"/>
<rect x="1298" y="58.02" width="47.5" height="45.02" fill="#fd2a26"/>
<rect x="1298" y="102.53" width="47.5" height="45.02" fill="#fb3e40"/>
<rect x="1298" y="147.05" width="47.5" height="45.02" fill="#f7585c"/>
<rect x="1298" y="191.56" width="47.5" height="45.02" fill="#f47279"/>
<rect x="1298" y="236.08" width="47.5" height="45.02" fill="#f29094"/>
<rect x="1298" y="280.59" width="47.5" height="45.02" fill="#f2aaad"/>
<rect x="1298" y="325.11" width="47.5" height="45.02" fill="#f5c6c8"/>
<rect x="1298" y="369.63" width="47.5" height="45.02" fill="#f7e2e2"/>
<rect x="1298" y="414.14" width="47.5" height="45.02" fill="#ffffff"/>
<rect x="1298" y="458.66" width="47.5" height="45.02" fill="#e0e2fe"/>
<rect x="1298" y="503.17" width="47.5" height="45.02" fill="#c5c8fd"/>
<rect x="1298" y="547.69" width="47.5" height="45.02" fill="#a9abfc"/>
<rect x="1298" y="592.21" width="47.5" height="45.02" fill="#8d8ffb"/>
<rect x="1298" y="636.72" width="47.5" height="45.02" fill="#7273fb"/>
<rect x="1298" y="681.24" width="47.5" height="45.02" fill="#5857fa"/>
<rect x="1298" y="725.75" width="47.5" height="45.02" fill="#4529fb"/>
<rect x="1298" y="770.27" width="47.5" height="45.02" fill="#1d00fa"/>
<rect x="1298" y="814.78" width="47.5" height="45.02" fill="#1400fa"/>
<rect x="1298" y="13.5" width="47.5" height="845.8" fill="none" stroke="#222" stroke-width="1.2"/>
<text x="1356.5" y="71.4" font-size="27" letter-spacing="0.5">4</text>
<text x="1356.5" y="118.2" font-size="27" letter-spacing="0.5">3.5</text>
<text x="1356.5" y="165.1" font-size="27" letter-spacing="0.5">3</text>
<text x="1356.5" y="211.9" font-size="27" letter-spacing="0.5">2.5</text>
<text x="1356.5" y="258.8" font-size="27" letter-spacing="0.5">2</text>
<text x="1356.5" y="305.6" font-size="27" letter-spacing="0.5">1.5</text>
<text x="1356.5" y="352.5" font-size="27" letter-spacing="0.5">1</text>
<text x="1356.5" y="399.3" font-size="27" letter-spacing="0.5">0.5</text>
<text x="1356.5" y="446.2" font-size="27" letter-spacing="0.5">0</text>
<text x="1356.5" y="493.1" font-size="27" letter-spacing="0.5">-0.5</text>
<text x="1356.5" y="539.9" font-size="27" letter-spacing="0.5">-1</text>
<text x="1356.5" y="586.8" font-size="27" letter-spacing="0.5">-1.5</text>
<text x="1356.5" y="633.6" font-size="27" letter-spacing="0.5">-2.5</text>
<text x="1356.5" y="680.4" font-size="27" letter-spacing="0.5">-2</text>
<text x="1356.5" y="727.3" font-size="27" letter-spacing="0.5">-3</text>
<text x="1356.5" y="774.1" font-size="27" letter-spacing="0.5">-3.5</text>
<text x="1356.5" y="821.0" font-size="27" letter-spacing="0.5">-4</text>
<path d="M1336.0 61.6H1345.5M1336.0 108.4H1345.5M1336.0 155.3H1345.5M1336.0 202.1H1345.5M1336.0 249.0H1345.5M1336.0 295.8H1345.5M1336.0 342.7H1345.5M1336.0 389.5H1345.5M1336.0 436.4H1345.5M1336.0 483.2H1345.5M1336.0 530.1H1345.5M1336.0 577.0H1345.5M1336.0 623.8H1345.5M1336.0 670.6H1345.5M1336.0 717.5H1345.5M1336.0 764.3H1345.5M1336.0 811.2H1345.5" stroke="#000" stroke-width="1.4" fill="none"/>
<text transform="translate(1441,437) rotate(-90)" text-anchor="middle" font-size="30">Regression Coeficient</text>
</svg>
</body></html>
